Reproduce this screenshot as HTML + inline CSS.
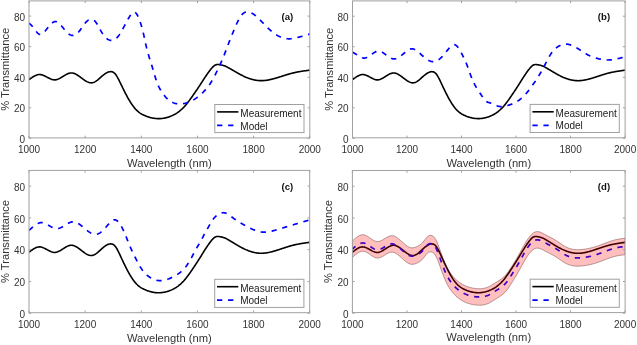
<!DOCTYPE html>
<html><head><meta charset="utf-8"><style>
html,body{margin:0;padding:0;background:#fff;width:637px;height:345px;overflow:hidden}
svg{display:block;filter:blur(0.35px)}
</style></head><body>
<svg width="637" height="345" viewBox="0 0 637 345">
<rect width="637" height="345" fill="#fff"/>
<clipPath id="clipa"><rect x="29" y="0.9" width="280.80" height="137.00"/></clipPath>
<g clip-path="url(#clipa)">
<path d="M29.00,79.66 L29.56,79.25 L30.12,78.84 L30.68,78.43 L31.25,78.04 L31.81,77.65 L32.37,77.27 L32.93,76.91 L33.49,76.56 L34.05,76.24 L34.62,75.93 L35.18,75.65 L35.74,75.39 L36.30,75.16 L36.86,74.96 L37.42,74.80 L37.99,74.67 L38.55,74.57 L39.11,74.52 L39.67,74.51 L40.23,74.54 L40.79,74.61 L41.36,74.72 L41.92,74.87 L42.48,75.04 L43.04,75.24 L43.60,75.47 L44.16,75.71 L44.72,75.98 L45.29,76.25 L45.85,76.54 L46.41,76.84 L46.97,77.14 L47.53,77.43 L48.09,77.73 L48.66,78.02 L49.22,78.30 L49.78,78.57 L50.34,78.83 L50.90,79.06 L51.46,79.27 L52.03,79.46 L52.59,79.61 L53.15,79.74 L53.71,79.82 L54.27,79.87 L54.83,79.88 L55.40,79.84 L55.96,79.76 L56.52,79.64 L57.08,79.48 L57.64,79.29 L58.20,79.07 L58.76,78.83 L59.33,78.56 L59.89,78.27 L60.45,77.96 L61.01,77.63 L61.57,77.30 L62.13,76.96 L62.70,76.61 L63.26,76.26 L63.82,75.92 L64.38,75.57 L64.94,75.24 L65.50,74.91 L66.07,74.60 L66.63,74.31 L67.19,74.03 L67.75,73.78 L68.31,73.56 L68.87,73.36 L69.44,73.20 L70.00,73.07 L70.56,72.99 L71.12,72.94 L71.68,72.94 L72.24,72.98 L72.80,73.07 L73.37,73.20 L73.93,73.37 L74.49,73.57 L75.05,73.81 L75.61,74.07 L76.17,74.37 L76.74,74.68 L77.30,75.03 L77.86,75.39 L78.42,75.76 L78.98,76.15 L79.54,76.55 L80.11,76.97 L80.67,77.38 L81.23,77.80 L81.79,78.22 L82.35,78.64 L82.91,79.05 L83.48,79.46 L84.04,79.85 L84.60,80.24 L85.16,80.60 L85.72,80.95 L86.28,81.28 L86.84,81.58 L87.41,81.86 L87.97,82.11 L88.53,82.32 L89.09,82.50 L89.65,82.65 L90.21,82.75 L90.78,82.81 L91.34,82.83 L91.90,82.80 L92.46,82.71 L93.02,82.58 L93.58,82.39 L94.15,82.16 L94.71,81.89 L95.27,81.58 L95.83,81.24 L96.39,80.86 L96.95,80.46 L97.52,80.03 L98.08,79.58 L98.64,79.12 L99.20,78.64 L99.76,78.15 L100.32,77.66 L100.88,77.17 L101.45,76.68 L102.01,76.19 L102.57,75.72 L103.13,75.25 L103.69,74.80 L104.25,74.37 L104.82,73.97 L105.38,73.58 L105.94,73.23 L106.50,72.90 L107.06,72.60 L107.62,72.34 L108.19,72.11 L108.75,71.93 L109.31,71.79 L109.87,71.69 L110.43,71.64 L110.99,71.64 L111.56,71.70 L112.12,71.82 L112.68,72.01 L113.24,72.28 L113.80,72.63 L114.36,73.08 L114.92,73.62 L115.49,74.27 L116.05,75.02 L116.61,75.87 L117.17,76.80 L117.73,77.79 L118.29,78.85 L118.86,79.94 L119.42,81.08 L119.98,82.23 L120.54,83.39 L121.10,84.56 L121.66,85.72 L122.23,86.87 L122.79,88.02 L123.35,89.16 L123.91,90.29 L124.47,91.41 L125.03,92.52 L125.60,93.61 L126.16,94.68 L126.72,95.74 L127.28,96.77 L127.84,97.79 L128.40,98.78 L128.96,99.76 L129.53,100.70 L130.09,101.63 L130.65,102.52 L131.21,103.39 L131.77,104.22 L132.33,105.03 L132.90,105.81 L133.46,106.56 L134.02,107.28 L134.58,107.97 L135.14,108.63 L135.70,109.25 L136.27,109.85 L136.83,110.42 L137.39,110.95 L137.95,111.46 L138.51,111.93 L139.07,112.37 L139.64,112.79 L140.20,113.18 L140.76,113.54 L141.32,113.88 L141.88,114.21 L142.44,114.51 L143.00,114.79 L143.57,115.06 L144.13,115.32 L144.69,115.57 L145.25,115.80 L145.81,116.03 L146.37,116.25 L146.94,116.46 L147.50,116.66 L148.06,116.85 L148.62,117.03 L149.18,117.20 L149.74,117.36 L150.31,117.52 L150.87,117.66 L151.43,117.79 L151.99,117.92 L152.55,118.03 L153.11,118.13 L153.68,118.23 L154.24,118.31 L154.80,118.39 L155.36,118.45 L155.92,118.51 L156.48,118.55 L157.04,118.58 L157.61,118.61 L158.17,118.62 L158.73,118.63 L159.29,118.62 L159.85,118.60 L160.41,118.58 L160.98,118.54 L161.54,118.49 L162.10,118.43 L162.66,118.37 L163.22,118.29 L163.78,118.20 L164.35,118.10 L164.91,117.99 L165.47,117.87 L166.03,117.74 L166.59,117.60 L167.15,117.45 L167.72,117.29 L168.28,117.12 L168.84,116.94 L169.40,116.74 L169.96,116.54 L170.52,116.33 L171.08,116.10 L171.65,115.87 L172.21,115.62 L172.77,115.36 L173.33,115.09 L173.89,114.81 L174.45,114.51 L175.02,114.20 L175.58,113.88 L176.14,113.54 L176.70,113.18 L177.26,112.81 L177.82,112.42 L178.39,112.02 L178.95,111.60 L179.51,111.16 L180.07,110.71 L180.63,110.23 L181.19,109.74 L181.76,109.23 L182.32,108.70 L182.88,108.16 L183.44,107.59 L184.00,107.00 L184.56,106.40 L185.12,105.77 L185.69,105.13 L186.25,104.46 L186.81,103.78 L187.37,103.07 L187.93,102.35 L188.49,101.62 L189.06,100.87 L189.62,100.11 L190.18,99.33 L190.74,98.55 L191.30,97.76 L191.86,96.97 L192.43,96.17 L192.99,95.36 L193.55,94.56 L194.11,93.75 L194.67,92.95 L195.23,92.14 L195.80,91.32 L196.36,90.51 L196.92,89.68 L197.48,88.85 L198.04,88.02 L198.60,87.18 L199.16,86.33 L199.73,85.47 L200.29,84.60 L200.85,83.73 L201.41,82.86 L201.97,81.99 L202.53,81.11 L203.10,80.24 L203.66,79.38 L204.22,78.52 L204.78,77.67 L205.34,76.83 L205.90,76.00 L206.47,75.18 L207.03,74.37 L207.59,73.57 L208.15,72.79 L208.71,72.03 L209.27,71.27 L209.84,70.54 L210.40,69.81 L210.96,69.11 L211.52,68.43 L212.08,67.78 L212.64,67.16 L213.20,66.60 L213.77,66.09 L214.33,65.64 L214.89,65.27 L215.45,64.98 L216.01,64.76 L216.57,64.62 L217.14,64.53 L217.70,64.50 L218.26,64.51 L218.82,64.56 L219.38,64.63 L219.94,64.72 L220.51,64.81 L221.07,64.92 L221.63,65.03 L222.19,65.16 L222.75,65.31 L223.31,65.47 L223.88,65.64 L224.44,65.84 L225.00,66.05 L225.56,66.29 L226.12,66.54 L226.68,66.81 L227.24,67.10 L227.81,67.40 L228.37,67.71 L228.93,68.02 L229.49,68.34 L230.05,68.66 L230.61,68.98 L231.18,69.30 L231.74,69.63 L232.30,69.95 L232.86,70.28 L233.42,70.61 L233.98,70.93 L234.55,71.26 L235.11,71.59 L235.67,71.91 L236.23,72.24 L236.79,72.56 L237.35,72.88 L237.92,73.19 L238.48,73.51 L239.04,73.82 L239.60,74.13 L240.16,74.43 L240.72,74.73 L241.28,75.02 L241.85,75.31 L242.41,75.59 L242.97,75.87 L243.53,76.14 L244.09,76.40 L244.65,76.66 L245.22,76.91 L245.78,77.15 L246.34,77.39 L246.90,77.62 L247.46,77.84 L248.02,78.06 L248.59,78.26 L249.15,78.46 L249.71,78.65 L250.27,78.83 L250.83,79.01 L251.39,79.18 L251.96,79.34 L252.52,79.49 L253.08,79.63 L253.64,79.76 L254.20,79.89 L254.76,80.00 L255.32,80.11 L255.89,80.21 L256.45,80.29 L257.01,80.37 L257.57,80.44 L258.13,80.50 L258.69,80.56 L259.26,80.60 L259.82,80.63 L260.38,80.65 L260.94,80.66 L261.50,80.66 L262.06,80.66 L262.63,80.64 L263.19,80.61 L263.75,80.57 L264.31,80.53 L264.87,80.47 L265.43,80.41 L266.00,80.34 L266.56,80.26 L267.12,80.18 L267.68,80.09 L268.24,79.99 L268.80,79.88 L269.36,79.77 L269.93,79.65 L270.49,79.53 L271.05,79.40 L271.61,79.27 L272.17,79.13 L272.73,78.99 L273.30,78.84 L273.86,78.69 L274.42,78.53 L274.98,78.37 L275.54,78.21 L276.10,78.05 L276.67,77.88 L277.23,77.71 L277.79,77.54 L278.35,77.37 L278.91,77.19 L279.47,77.02 L280.04,76.84 L280.60,76.66 L281.16,76.48 L281.72,76.31 L282.28,76.13 L282.84,75.95 L283.40,75.77 L283.97,75.59 L284.53,75.41 L285.09,75.24 L285.65,75.06 L286.21,74.89 L286.77,74.72 L287.34,74.54 L287.90,74.38 L288.46,74.21 L289.02,74.05 L289.58,73.89 L290.14,73.73 L290.71,73.57 L291.27,73.42 L291.83,73.27 L292.39,73.13 L292.95,72.99 L293.51,72.85 L294.08,72.72 L294.64,72.60 L295.20,72.47 L295.76,72.35 L296.32,72.24 L296.88,72.12 L297.44,72.01 L298.01,71.91 L298.57,71.80 L299.13,71.70 L299.69,71.61 L300.25,71.51 L300.81,71.42 L301.38,71.33 L301.94,71.24 L302.50,71.15 L303.06,71.07 L303.62,70.98 L304.18,70.90 L304.75,70.82 L305.31,70.75 L305.87,70.67 L306.43,70.59 L306.99,70.52 L307.55,70.44 L308.12,70.37 L308.68,70.29 L309.24,70.22 L309.80,70.15" fill="none" stroke="#000" stroke-width="1.6"/>
<path d="M29.00,23.00 L29.56,23.53 L30.12,24.06 L30.68,24.61 L31.25,25.18 L31.81,25.77 L32.37,26.40 L32.93,27.07 L33.49,27.78 L34.05,28.53 L34.62,29.30 L35.18,30.08 L35.74,30.85 L36.30,31.59 L36.86,32.28 L37.42,32.90 L37.99,33.44 L38.55,33.88 L39.11,34.20 L39.67,34.40 L40.23,34.46 L40.79,34.41 L41.36,34.25 L41.92,34.00 L42.48,33.65 L43.04,33.23 L43.60,32.73 L44.16,32.18 L44.72,31.57 L45.29,30.92 L45.85,30.24 L46.41,29.53 L46.97,28.81 L47.53,28.09 L48.09,27.37 L48.66,26.65 L49.22,25.96 L49.78,25.30 L50.34,24.66 L50.90,24.06 L51.46,23.51 L52.03,23.01 L52.59,22.57 L53.15,22.20 L53.71,21.90 L54.27,21.68 L54.83,21.54 L55.40,21.50 L55.96,21.56 L56.52,21.71 L57.08,21.94 L57.64,22.25 L58.20,22.64 L58.76,23.08 L59.33,23.59 L59.89,24.14 L60.45,24.73 L61.01,25.36 L61.57,26.02 L62.13,26.69 L62.70,27.38 L63.26,28.07 L63.82,28.76 L64.38,29.44 L64.94,30.11 L65.50,30.76 L66.07,31.40 L66.63,32.00 L67.19,32.57 L67.75,33.10 L68.31,33.59 L68.87,34.04 L69.44,34.43 L70.00,34.76 L70.56,35.03 L71.12,35.24 L71.68,35.37 L72.24,35.44 L72.80,35.43 L73.37,35.37 L73.93,35.24 L74.49,35.04 L75.05,34.79 L75.61,34.48 L76.17,34.11 L76.74,33.69 L77.30,33.22 L77.86,32.69 L78.42,32.12 L78.98,31.50 L79.54,30.83 L80.11,30.12 L80.67,29.37 L81.23,28.59 L81.79,27.79 L82.35,26.97 L82.91,26.15 L83.48,25.35 L84.04,24.56 L84.60,23.80 L85.16,23.09 L85.72,22.43 L86.28,21.82 L86.84,21.28 L87.41,20.79 L87.97,20.37 L88.53,20.02 L89.09,19.73 L89.65,19.51 L90.21,19.36 L90.78,19.28 L91.34,19.28 L91.90,19.36 L92.46,19.51 L93.02,19.75 L93.58,20.06 L94.15,20.46 L94.71,20.95 L95.27,21.52 L95.83,22.18 L96.39,22.93 L96.95,23.77 L97.52,24.68 L98.08,25.65 L98.64,26.66 L99.20,27.70 L99.76,28.75 L100.32,29.79 L100.88,30.82 L101.45,31.81 L102.01,32.75 L102.57,33.63 L103.13,34.47 L103.69,35.25 L104.25,35.97 L104.82,36.64 L105.38,37.26 L105.94,37.83 L106.50,38.34 L107.06,38.79 L107.62,39.19 L108.19,39.54 L108.75,39.83 L109.31,40.07 L109.87,40.25 L110.43,40.37 L110.99,40.44 L111.56,40.46 L112.12,40.42 L112.68,40.32 L113.24,40.16 L113.80,39.95 L114.36,39.68 L114.92,39.35 L115.49,38.97 L116.05,38.53 L116.61,38.02 L117.17,37.46 L117.73,36.84 L118.29,36.16 L118.86,35.42 L119.42,34.63 L119.98,33.78 L120.54,32.89 L121.10,31.96 L121.66,30.99 L122.23,29.99 L122.79,28.97 L123.35,27.93 L123.91,26.87 L124.47,25.80 L125.03,24.74 L125.60,23.67 L126.16,22.61 L126.72,21.56 L127.28,20.53 L127.84,19.51 L128.40,18.53 L128.96,17.57 L129.53,16.65 L130.09,15.77 L130.65,14.94 L131.21,14.16 L131.77,13.48 L132.33,12.89 L132.90,12.43 L133.46,12.12 L134.02,11.98 L134.58,12.03 L135.14,12.28 L135.70,12.74 L136.27,13.40 L136.83,14.23 L137.39,15.23 L137.95,16.37 L138.51,17.63 L139.07,19.02 L139.64,20.49 L140.20,22.07 L140.76,23.75 L141.32,25.56 L141.88,27.49 L142.44,29.56 L143.00,31.79 L143.57,34.17 L144.13,36.69 L144.69,39.28 L145.25,41.88 L145.81,44.45 L146.37,46.93 L146.94,49.26 L147.50,51.42 L148.06,53.44 L148.62,55.36 L149.18,57.18 L149.74,58.96 L150.31,60.71 L150.87,62.46 L151.43,64.25 L151.99,66.09 L152.55,67.98 L153.11,69.91 L153.68,71.85 L154.24,73.78 L154.80,75.67 L155.36,77.51 L155.92,79.28 L156.48,80.94 L157.04,82.49 L157.61,83.93 L158.17,85.28 L158.73,86.53 L159.29,87.69 L159.85,88.78 L160.41,89.79 L160.98,90.75 L161.54,91.64 L162.10,92.49 L162.66,93.30 L163.22,94.08 L163.78,94.83 L164.35,95.54 L164.91,96.23 L165.47,96.89 L166.03,97.51 L166.59,98.10 L167.15,98.67 L167.72,99.20 L168.28,99.70 L168.84,100.17 L169.40,100.60 L169.96,101.01 L170.52,101.39 L171.08,101.73 L171.65,102.05 L172.21,102.33 L172.77,102.59 L173.33,102.82 L173.89,103.02 L174.45,103.20 L175.02,103.36 L175.58,103.50 L176.14,103.61 L176.70,103.71 L177.26,103.78 L177.82,103.84 L178.39,103.88 L178.95,103.91 L179.51,103.92 L180.07,103.92 L180.63,103.91 L181.19,103.88 L181.76,103.84 L182.32,103.78 L182.88,103.71 L183.44,103.63 L184.00,103.53 L184.56,103.42 L185.12,103.29 L185.69,103.16 L186.25,103.00 L186.81,102.84 L187.37,102.66 L187.93,102.47 L188.49,102.26 L189.06,102.04 L189.62,101.81 L190.18,101.56 L190.74,101.30 L191.30,101.03 L191.86,100.74 L192.43,100.45 L192.99,100.13 L193.55,99.81 L194.11,99.47 L194.67,99.12 L195.23,98.75 L195.80,98.38 L196.36,97.99 L196.92,97.58 L197.48,97.16 L198.04,96.73 L198.60,96.29 L199.16,95.83 L199.73,95.36 L200.29,94.87 L200.85,94.37 L201.41,93.86 L201.97,93.33 L202.53,92.79 L203.10,92.24 L203.66,91.66 L204.22,91.08 L204.78,90.48 L205.34,89.86 L205.90,89.23 L206.47,88.58 L207.03,87.90 L207.59,87.21 L208.15,86.48 L208.71,85.74 L209.27,84.96 L209.84,84.16 L210.40,83.32 L210.96,82.46 L211.52,81.56 L212.08,80.62 L212.64,79.65 L213.20,78.64 L213.77,77.59 L214.33,76.52 L214.89,75.42 L215.45,74.30 L216.01,73.16 L216.57,72.00 L217.14,70.83 L217.70,69.66 L218.26,68.48 L218.82,67.29 L219.38,66.10 L219.94,64.90 L220.51,63.69 L221.07,62.45 L221.63,61.18 L222.19,59.89 L222.75,58.56 L223.31,57.19 L223.88,55.78 L224.44,54.34 L225.00,52.88 L225.56,51.40 L226.12,49.91 L226.68,48.42 L227.24,46.94 L227.81,45.46 L228.37,44.00 L228.93,42.55 L229.49,41.11 L230.05,39.69 L230.61,38.28 L231.18,36.88 L231.74,35.48 L232.30,34.10 L232.86,32.73 L233.42,31.36 L233.98,30.00 L234.55,28.66 L235.11,27.33 L235.67,26.03 L236.23,24.75 L236.79,23.52 L237.35,22.32 L237.92,21.16 L238.48,20.06 L239.04,19.01 L239.60,18.03 L240.16,17.10 L240.72,16.25 L241.28,15.48 L241.85,14.78 L242.41,14.17 L242.97,13.63 L243.53,13.17 L244.09,12.78 L244.65,12.46 L245.22,12.21 L245.78,12.01 L246.34,11.88 L246.90,11.80 L247.46,11.78 L248.02,11.80 L248.59,11.87 L249.15,11.99 L249.71,12.15 L250.27,12.35 L250.83,12.58 L251.39,12.85 L251.96,13.16 L252.52,13.49 L253.08,13.85 L253.64,14.24 L254.20,14.65 L254.76,15.08 L255.32,15.53 L255.89,16.00 L256.45,16.49 L257.01,16.99 L257.57,17.51 L258.13,18.04 L258.69,18.58 L259.26,19.13 L259.82,19.69 L260.38,20.26 L260.94,20.84 L261.50,21.42 L262.06,22.01 L262.63,22.60 L263.19,23.19 L263.75,23.78 L264.31,24.37 L264.87,24.95 L265.43,25.53 L266.00,26.11 L266.56,26.69 L267.12,27.25 L267.68,27.81 L268.24,28.36 L268.80,28.90 L269.36,29.43 L269.93,29.94 L270.49,30.45 L271.05,30.93 L271.61,31.41 L272.17,31.87 L272.73,32.31 L273.30,32.75 L273.86,33.16 L274.42,33.57 L274.98,33.95 L275.54,34.33 L276.10,34.69 L276.67,35.03 L277.23,35.36 L277.79,35.68 L278.35,35.98 L278.91,36.26 L279.47,36.54 L280.04,36.79 L280.60,37.03 L281.16,37.26 L281.72,37.47 L282.28,37.66 L282.84,37.84 L283.40,38.01 L283.97,38.16 L284.53,38.29 L285.09,38.41 L285.65,38.51 L286.21,38.60 L286.77,38.67 L287.34,38.73 L287.90,38.77 L288.46,38.79 L289.02,38.80 L289.58,38.80 L290.14,38.78 L290.71,38.74 L291.27,38.70 L291.83,38.64 L292.39,38.57 L292.95,38.49 L293.51,38.39 L294.08,38.29 L294.64,38.18 L295.20,38.07 L295.76,37.94 L296.32,37.81 L296.88,37.68 L297.44,37.54 L298.01,37.39 L298.57,37.24 L299.13,37.09 L299.69,36.94 L300.25,36.79 L300.81,36.63 L301.38,36.47 L301.94,36.31 L302.50,36.15 L303.06,35.99 L303.62,35.83 L304.18,35.67 L304.75,35.50 L305.31,35.34 L305.87,35.17 L306.43,35.01 L306.99,34.84 L307.55,34.67 L308.12,34.50 L308.68,34.34 L309.24,34.17 L309.80,34.00" fill="none" stroke="#0000ff" stroke-width="1.7" stroke-dasharray="5.27 5.77" stroke-dashoffset="0"/>
</g>
<rect x="29" y="0.9" width="280.80" height="137.00" fill="none" stroke="#a0a0a0" stroke-width="1"/>
<line x1="29" y1="138.37" x2="31.2" y2="138.37" stroke="#a0a0a0"/>
<line x1="309.8" y1="138.37" x2="307.6" y2="138.37" stroke="#a0a0a0"/>
<text x="25.10" y="142.97" text-anchor="end" font-family="'Liberation Sans', sans-serif" font-size="10" fill="#333">0</text>
<line x1="29" y1="107.80" x2="31.2" y2="107.80" stroke="#a0a0a0"/>
<line x1="309.8" y1="107.80" x2="307.6" y2="107.80" stroke="#a0a0a0"/>
<text x="25.10" y="112.40" text-anchor="end" font-family="'Liberation Sans', sans-serif" font-size="10" fill="#333">20</text>
<line x1="29" y1="77.24" x2="31.2" y2="77.24" stroke="#a0a0a0"/>
<line x1="309.8" y1="77.24" x2="307.6" y2="77.24" stroke="#a0a0a0"/>
<text x="25.10" y="81.84" text-anchor="end" font-family="'Liberation Sans', sans-serif" font-size="10" fill="#333">40</text>
<line x1="29" y1="46.67" x2="31.2" y2="46.67" stroke="#a0a0a0"/>
<line x1="309.8" y1="46.67" x2="307.6" y2="46.67" stroke="#a0a0a0"/>
<text x="25.10" y="51.27" text-anchor="end" font-family="'Liberation Sans', sans-serif" font-size="10" fill="#333">60</text>
<line x1="29" y1="16.10" x2="31.2" y2="16.10" stroke="#a0a0a0"/>
<line x1="309.8" y1="16.10" x2="307.6" y2="16.10" stroke="#a0a0a0"/>
<text x="25.10" y="20.70" text-anchor="end" font-family="'Liberation Sans', sans-serif" font-size="10" fill="#333">80</text>
<line x1="29.00" y1="137.9" x2="29.00" y2="135.70000000000002" stroke="#a0a0a0"/>
<line x1="29.00" y1="0.9" x2="29.00" y2="3.1" stroke="#a0a0a0"/>
<text x="29.00" y="153.00" text-anchor="middle" font-family="'Liberation Sans', sans-serif" font-size="10" fill="#333">1000</text>
<line x1="85.16" y1="137.9" x2="85.16" y2="135.70000000000002" stroke="#a0a0a0"/>
<line x1="85.16" y1="0.9" x2="85.16" y2="3.1" stroke="#a0a0a0"/>
<text x="85.16" y="153.00" text-anchor="middle" font-family="'Liberation Sans', sans-serif" font-size="10" fill="#333">1200</text>
<line x1="141.32" y1="137.9" x2="141.32" y2="135.70000000000002" stroke="#a0a0a0"/>
<line x1="141.32" y1="0.9" x2="141.32" y2="3.1" stroke="#a0a0a0"/>
<text x="141.32" y="153.00" text-anchor="middle" font-family="'Liberation Sans', sans-serif" font-size="10" fill="#333">1400</text>
<line x1="197.48" y1="137.9" x2="197.48" y2="135.70000000000002" stroke="#a0a0a0"/>
<line x1="197.48" y1="0.9" x2="197.48" y2="3.1" stroke="#a0a0a0"/>
<text x="197.48" y="153.00" text-anchor="middle" font-family="'Liberation Sans', sans-serif" font-size="10" fill="#333">1600</text>
<line x1="253.64" y1="137.9" x2="253.64" y2="135.70000000000002" stroke="#a0a0a0"/>
<line x1="253.64" y1="0.9" x2="253.64" y2="3.1" stroke="#a0a0a0"/>
<text x="253.64" y="153.00" text-anchor="middle" font-family="'Liberation Sans', sans-serif" font-size="10" fill="#333">1800</text>
<line x1="309.80" y1="137.9" x2="309.80" y2="135.70000000000002" stroke="#a0a0a0"/>
<line x1="309.80" y1="0.9" x2="309.80" y2="3.1" stroke="#a0a0a0"/>
<text x="309.80" y="153.00" text-anchor="middle" font-family="'Liberation Sans', sans-serif" font-size="10" fill="#333">2000</text>
<text x="169.40" y="166.70" text-anchor="middle" font-family="'Liberation Sans', sans-serif" font-size="11.2" fill="#333">Wavelength (nm)</text>
<text transform="translate(9.00,69.30) rotate(-90)" text-anchor="middle" font-family="'Liberation Sans', sans-serif" font-size="11.15" fill="#333">% Transmittance</text>
<text x="281.45" y="20.20" font-family="'Liberation Sans', sans-serif" font-size="9.6" font-weight="bold" fill="#111">(a)</text>
<rect x="214.80" y="104.50" width="89.2" height="28.1" fill="#fff" stroke="#a0a0a0" stroke-width="1"/>
<line x1="217.10" y1="111.90" x2="238.40" y2="111.90" stroke="#000" stroke-width="1.6"/>
<line x1="217.10" y1="125.40" x2="238.40" y2="125.40" stroke="#0000ff" stroke-width="1.7" stroke-dasharray="5.27 5.77"/>
<text x="240.30" y="116.80" font-family="'Liberation Sans', sans-serif" font-size="10" fill="#1a1a1a">Measurement</text>
<text x="240.30" y="129.50" font-family="'Liberation Sans', sans-serif" font-size="10" fill="#1a1a1a">Model</text>
<clipPath id="clipb"><rect x="352.5" y="0.9" width="272.60" height="136.90"/></clipPath>
<g clip-path="url(#clipb)">
<path d="M352.50,79.68 L353.05,79.27 L353.59,78.86 L354.14,78.46 L354.68,78.06 L355.23,77.67 L355.77,77.30 L356.32,76.94 L356.86,76.59 L357.41,76.26 L357.95,75.96 L358.50,75.68 L359.04,75.42 L359.59,75.19 L360.13,74.99 L360.68,74.83 L361.22,74.70 L361.77,74.60 L362.31,74.55 L362.86,74.54 L363.40,74.57 L363.95,74.64 L364.49,74.75 L365.04,74.90 L365.58,75.07 L366.13,75.27 L366.68,75.50 L367.22,75.74 L367.77,76.00 L368.31,76.28 L368.86,76.57 L369.40,76.86 L369.95,77.16 L370.49,77.46 L371.04,77.76 L371.58,78.05 L372.13,78.33 L372.67,78.60 L373.22,78.85 L373.76,79.08 L374.31,79.30 L374.85,79.48 L375.40,79.64 L375.94,79.76 L376.49,79.85 L377.03,79.90 L377.58,79.90 L378.12,79.86 L378.67,79.78 L379.21,79.66 L379.76,79.51 L380.31,79.32 L380.85,79.10 L381.40,78.85 L381.94,78.58 L382.49,78.29 L383.03,77.98 L383.58,77.66 L384.12,77.33 L384.67,76.99 L385.21,76.64 L385.76,76.29 L386.30,75.94 L386.85,75.60 L387.39,75.27 L387.94,74.94 L388.48,74.63 L389.03,74.34 L389.57,74.06 L390.12,73.81 L390.66,73.59 L391.21,73.39 L391.75,73.23 L392.30,73.11 L392.84,73.02 L393.39,72.97 L393.94,72.97 L394.48,73.01 L395.03,73.10 L395.57,73.23 L396.12,73.40 L396.66,73.60 L397.21,73.84 L397.75,74.10 L398.30,74.40 L398.84,74.71 L399.39,75.05 L399.93,75.41 L400.48,75.79 L401.02,76.18 L401.57,76.58 L402.11,76.99 L402.66,77.41 L403.20,77.83 L403.75,78.25 L404.29,78.67 L404.84,79.08 L405.38,79.48 L405.93,79.88 L406.47,80.26 L407.02,80.63 L407.57,80.97 L408.11,81.30 L408.66,81.60 L409.20,81.88 L409.75,82.13 L410.29,82.34 L410.84,82.52 L411.38,82.67 L411.93,82.77 L412.47,82.83 L413.02,82.85 L413.56,82.82 L414.11,82.73 L414.65,82.60 L415.20,82.42 L415.74,82.19 L416.29,81.91 L416.83,81.60 L417.38,81.26 L417.92,80.88 L418.47,80.48 L419.01,80.05 L419.56,79.60 L420.10,79.14 L420.65,78.66 L421.20,78.18 L421.74,77.69 L422.29,77.20 L422.83,76.71 L423.38,76.22 L423.92,75.74 L424.47,75.28 L425.01,74.83 L425.56,74.40 L426.10,74.00 L426.65,73.61 L427.19,73.26 L427.74,72.93 L428.28,72.63 L428.83,72.37 L429.37,72.15 L429.92,71.96 L430.46,71.82 L431.01,71.72 L431.55,71.67 L432.10,71.68 L432.64,71.73 L433.19,71.85 L433.73,72.04 L434.28,72.31 L434.83,72.67 L435.37,73.11 L435.92,73.65 L436.46,74.30 L437.01,75.05 L437.55,75.90 L438.10,76.82 L438.64,77.82 L439.19,78.87 L439.73,79.97 L440.28,81.10 L440.82,82.25 L441.37,83.41 L441.91,84.58 L442.46,85.73 L443.00,86.89 L443.55,88.04 L444.09,89.17 L444.64,90.30 L445.18,91.42 L445.73,92.53 L446.27,93.62 L446.82,94.69 L447.36,95.74 L447.91,96.78 L448.46,97.79 L449.00,98.79 L449.55,99.76 L450.09,100.70 L450.64,101.63 L451.18,102.52 L451.73,103.38 L452.27,104.22 L452.82,105.03 L453.36,105.81 L453.91,106.55 L454.45,107.27 L455.00,107.96 L455.54,108.62 L456.09,109.25 L456.63,109.84 L457.18,110.41 L457.72,110.94 L458.27,111.45 L458.81,111.92 L459.36,112.36 L459.90,112.78 L460.45,113.16 L460.99,113.53 L461.54,113.87 L462.09,114.19 L462.63,114.49 L463.18,114.78 L463.72,115.05 L464.27,115.31 L464.81,115.55 L465.36,115.79 L465.90,116.02 L466.45,116.23 L466.99,116.44 L467.54,116.64 L468.08,116.83 L468.63,117.01 L469.17,117.18 L469.72,117.35 L470.26,117.50 L470.81,117.64 L471.35,117.77 L471.90,117.90 L472.44,118.01 L472.99,118.12 L473.53,118.21 L474.08,118.29 L474.62,118.37 L475.17,118.43 L475.72,118.49 L476.26,118.53 L476.81,118.57 L477.35,118.59 L477.90,118.60 L478.44,118.61 L478.99,118.60 L479.53,118.59 L480.08,118.56 L480.62,118.52 L481.17,118.47 L481.71,118.42 L482.26,118.35 L482.80,118.27 L483.35,118.18 L483.89,118.08 L484.44,117.97 L484.98,117.85 L485.53,117.73 L486.07,117.58 L486.62,117.43 L487.16,117.27 L487.71,117.10 L488.25,116.92 L488.80,116.73 L489.35,116.53 L489.89,116.31 L490.44,116.09 L490.98,115.85 L491.53,115.61 L492.07,115.35 L492.62,115.08 L493.16,114.80 L493.71,114.50 L494.25,114.19 L494.80,113.86 L495.34,113.52 L495.89,113.17 L496.43,112.80 L496.98,112.41 L497.52,112.01 L498.07,111.59 L498.61,111.15 L499.16,110.70 L499.70,110.22 L500.25,109.73 L500.79,109.22 L501.34,108.70 L501.88,108.15 L502.43,107.58 L502.98,107.00 L503.52,106.39 L504.07,105.77 L504.61,105.13 L505.16,104.46 L505.70,103.78 L506.25,103.07 L506.79,102.35 L507.34,101.62 L507.88,100.87 L508.43,100.11 L508.97,99.34 L509.52,98.55 L510.06,97.77 L510.61,96.97 L511.15,96.17 L511.70,95.37 L512.24,94.57 L512.79,93.76 L513.33,92.96 L513.88,92.15 L514.42,91.34 L514.97,90.52 L515.51,89.70 L516.06,88.87 L516.61,88.03 L517.15,87.19 L517.70,86.34 L518.24,85.48 L518.79,84.62 L519.33,83.75 L519.88,82.88 L520.42,82.01 L520.97,81.13 L521.51,80.27 L522.06,79.40 L522.60,78.54 L523.15,77.69 L523.69,76.85 L524.24,76.02 L524.78,75.21 L525.33,74.40 L525.87,73.61 L526.42,72.82 L526.96,72.06 L527.51,71.31 L528.05,70.57 L528.60,69.85 L529.14,69.14 L529.69,68.46 L530.24,67.81 L530.78,67.20 L531.33,66.64 L531.87,66.13 L532.42,65.68 L532.96,65.31 L533.51,65.02 L534.05,64.80 L534.60,64.66 L535.14,64.57 L535.69,64.54 L536.23,64.55 L536.78,64.60 L537.32,64.67 L537.87,64.76 L538.41,64.85 L538.96,64.96 L539.50,65.07 L540.05,65.20 L540.59,65.35 L541.14,65.51 L541.68,65.68 L542.23,65.88 L542.77,66.09 L543.32,66.33 L543.87,66.58 L544.41,66.85 L544.96,67.14 L545.50,67.44 L546.05,67.74 L546.59,68.06 L547.14,68.37 L547.68,68.69 L548.23,69.01 L548.77,69.34 L549.32,69.66 L549.86,69.99 L550.41,70.31 L550.95,70.64 L551.50,70.97 L552.04,71.29 L552.59,71.62 L553.13,71.94 L553.68,72.27 L554.22,72.59 L554.77,72.91 L555.31,73.22 L555.86,73.54 L556.40,73.85 L556.95,74.16 L557.50,74.46 L558.04,74.76 L558.59,75.05 L559.13,75.34 L559.68,75.62 L560.22,75.90 L560.77,76.17 L561.31,76.43 L561.86,76.69 L562.40,76.94 L562.95,77.18 L563.49,77.42 L564.04,77.65 L564.58,77.87 L565.13,78.08 L565.67,78.29 L566.22,78.49 L566.76,78.68 L567.31,78.86 L567.85,79.03 L568.40,79.20 L568.94,79.36 L569.49,79.51 L570.03,79.65 L570.58,79.78 L571.13,79.91 L571.67,80.02 L572.22,80.13 L572.76,80.23 L573.31,80.32 L573.85,80.40 L574.40,80.47 L574.94,80.53 L575.49,80.58 L576.03,80.62 L576.58,80.65 L577.12,80.67 L577.67,80.69 L578.21,80.69 L578.76,80.68 L579.30,80.66 L579.85,80.63 L580.39,80.60 L580.94,80.55 L581.48,80.50 L582.03,80.44 L582.57,80.37 L583.12,80.29 L583.66,80.20 L584.21,80.11 L584.76,80.01 L585.30,79.91 L585.85,79.80 L586.39,79.68 L586.94,79.55 L587.48,79.43 L588.03,79.29 L588.57,79.15 L589.12,79.01 L589.66,78.86 L590.21,78.71 L590.75,78.56 L591.30,78.40 L591.84,78.24 L592.39,78.07 L592.93,77.91 L593.48,77.74 L594.02,77.57 L594.57,77.39 L595.11,77.22 L595.66,77.04 L596.20,76.87 L596.75,76.69 L597.29,76.51 L597.84,76.33 L598.39,76.15 L598.93,75.98 L599.48,75.80 L600.02,75.62 L600.57,75.44 L601.11,75.27 L601.66,75.09 L602.20,74.92 L602.75,74.74 L603.29,74.57 L603.84,74.41 L604.38,74.24 L604.93,74.08 L605.47,73.92 L606.02,73.76 L606.56,73.60 L607.11,73.45 L607.65,73.31 L608.20,73.16 L608.74,73.02 L609.29,72.89 L609.83,72.76 L610.38,72.63 L610.92,72.50 L611.47,72.38 L612.02,72.27 L612.56,72.16 L613.11,72.05 L613.65,71.94 L614.20,71.84 L614.74,71.74 L615.29,71.64 L615.83,71.54 L616.38,71.45 L616.92,71.36 L617.47,71.27 L618.01,71.19 L618.56,71.10 L619.10,71.02 L619.65,70.94 L620.19,70.86 L620.74,70.78 L621.28,70.70 L621.83,70.63 L622.37,70.55 L622.92,70.47 L623.46,70.40 L624.01,70.33 L624.55,70.25 L625.10,70.18" fill="none" stroke="#000" stroke-width="1.6"/>
<path d="M352.50,52.20 L353.05,52.50 L353.59,52.80 L354.14,53.10 L354.68,53.41 L355.23,53.73 L355.77,54.05 L356.32,54.39 L356.86,54.73 L357.41,55.08 L357.95,55.44 L358.50,55.79 L359.04,56.13 L359.59,56.47 L360.13,56.79 L360.68,57.08 L361.22,57.35 L361.77,57.58 L362.31,57.78 L362.86,57.93 L363.40,58.04 L363.95,58.09 L364.49,58.09 L365.04,58.03 L365.58,57.92 L366.13,57.75 L366.68,57.55 L367.22,57.30 L367.77,57.02 L368.31,56.70 L368.86,56.36 L369.40,56.00 L369.95,55.62 L370.49,55.23 L371.04,54.83 L371.58,54.43 L372.13,54.03 L372.67,53.63 L373.22,53.25 L373.76,52.87 L374.31,52.52 L374.85,52.19 L375.40,51.90 L375.94,51.63 L376.49,51.41 L377.03,51.23 L377.58,51.09 L378.12,51.02 L378.67,51.00 L379.21,51.04 L379.76,51.15 L380.31,51.31 L380.85,51.52 L381.40,51.77 L381.94,52.06 L382.49,52.38 L383.03,52.73 L383.58,53.10 L384.12,53.49 L384.67,53.89 L385.21,54.30 L385.76,54.71 L386.30,55.13 L386.85,55.54 L387.39,55.94 L387.94,56.34 L388.48,56.72 L389.03,57.08 L389.57,57.42 L390.12,57.73 L390.66,58.02 L391.21,58.28 L391.75,58.49 L392.30,58.67 L392.84,58.80 L393.39,58.89 L393.94,58.92 L394.48,58.91 L395.03,58.85 L395.57,58.74 L396.12,58.59 L396.66,58.40 L397.21,58.17 L397.75,57.91 L398.30,57.62 L398.84,57.30 L399.39,56.95 L399.93,56.58 L400.48,56.19 L401.02,55.77 L401.57,55.35 L402.11,54.90 L402.66,54.45 L403.20,53.99 L403.75,53.52 L404.29,53.06 L404.84,52.60 L405.38,52.14 L405.93,51.70 L406.47,51.28 L407.02,50.87 L407.57,50.49 L408.11,50.14 L408.66,49.82 L409.20,49.53 L409.75,49.29 L410.29,49.09 L410.84,48.94 L411.38,48.84 L411.93,48.80 L412.47,48.82 L413.02,48.90 L413.56,49.03 L414.11,49.21 L414.65,49.44 L415.20,49.71 L415.74,50.02 L416.29,50.37 L416.83,50.75 L417.38,51.16 L417.92,51.60 L418.47,52.05 L419.01,52.52 L419.56,53.01 L420.10,53.50 L420.65,54.01 L421.20,54.51 L421.74,55.01 L422.29,55.51 L422.83,56.01 L423.38,56.49 L423.92,56.97 L424.47,57.44 L425.01,57.89 L425.56,58.32 L426.10,58.74 L426.65,59.14 L427.19,59.51 L427.74,59.86 L428.28,60.19 L428.83,60.48 L429.37,60.75 L429.92,60.99 L430.46,61.19 L431.01,61.35 L431.55,61.48 L432.10,61.57 L432.64,61.61 L433.19,61.63 L433.73,61.60 L434.28,61.53 L434.83,61.43 L435.37,61.29 L435.92,61.12 L436.46,60.90 L437.01,60.65 L437.55,60.37 L438.10,60.04 L438.64,59.69 L439.19,59.29 L439.73,58.86 L440.28,58.40 L440.82,57.90 L441.37,57.37 L441.91,56.81 L442.46,56.22 L443.00,55.61 L443.55,54.98 L444.09,54.33 L444.64,53.67 L445.18,53.00 L445.73,52.33 L446.27,51.64 L446.82,50.96 L447.36,50.28 L447.91,49.61 L448.46,48.95 L449.00,48.30 L449.55,47.68 L450.09,47.09 L450.64,46.55 L451.18,46.06 L451.73,45.63 L452.27,45.26 L452.82,44.98 L453.36,44.78 L453.91,44.68 L454.45,44.68 L455.00,44.80 L455.54,45.03 L456.09,45.38 L456.63,45.83 L457.18,46.38 L457.72,47.02 L458.27,47.74 L458.81,48.54 L459.36,49.39 L459.90,50.31 L460.45,51.27 L460.99,52.28 L461.54,53.32 L462.09,54.38 L462.63,55.46 L463.18,56.55 L463.72,57.67 L464.27,58.81 L464.81,59.98 L465.36,61.19 L465.90,62.45 L466.45,63.76 L466.99,65.13 L467.54,66.57 L468.08,68.06 L468.63,69.60 L469.17,71.16 L469.72,72.71 L470.26,74.24 L470.81,75.72 L471.35,77.14 L471.90,78.50 L472.44,79.79 L472.99,81.02 L473.53,82.20 L474.08,83.32 L474.62,84.39 L475.17,85.41 L475.72,86.39 L476.26,87.33 L476.81,88.23 L477.35,89.10 L477.90,89.95 L478.44,90.79 L478.99,91.60 L479.53,92.41 L480.08,93.22 L480.62,94.03 L481.17,94.85 L481.71,95.68 L482.26,96.51 L482.80,97.33 L483.35,98.12 L483.89,98.88 L484.44,99.58 L484.98,100.21 L485.53,100.77 L486.07,101.24 L486.62,101.61 L487.16,101.90 L487.71,102.14 L488.25,102.34 L488.80,102.51 L489.35,102.68 L489.89,102.87 L490.44,103.07 L490.98,103.28 L491.53,103.50 L492.07,103.73 L492.62,103.97 L493.16,104.21 L493.71,104.45 L494.25,104.69 L494.80,104.93 L495.34,105.15 L495.89,105.37 L496.43,105.58 L496.98,105.78 L497.52,105.96 L498.07,106.12 L498.61,106.26 L499.16,106.37 L499.70,106.47 L500.25,106.53 L500.79,106.57 L501.34,106.59 L501.88,106.59 L502.43,106.56 L502.98,106.52 L503.52,106.46 L504.07,106.38 L504.61,106.29 L505.16,106.18 L505.70,106.06 L506.25,105.92 L506.79,105.78 L507.34,105.62 L507.88,105.46 L508.43,105.29 L508.97,105.11 L509.52,104.93 L510.06,104.74 L510.61,104.54 L511.15,104.34 L511.70,104.13 L512.24,103.91 L512.79,103.68 L513.33,103.45 L513.88,103.20 L514.42,102.94 L514.97,102.66 L515.51,102.38 L516.06,102.08 L516.61,101.77 L517.15,101.44 L517.70,101.09 L518.24,100.73 L518.79,100.35 L519.33,99.96 L519.88,99.54 L520.42,99.11 L520.97,98.66 L521.51,98.19 L522.06,97.70 L522.60,97.20 L523.15,96.68 L523.69,96.14 L524.24,95.59 L524.78,95.01 L525.33,94.43 L525.87,93.82 L526.42,93.20 L526.96,92.56 L527.51,91.91 L528.05,91.24 L528.60,90.56 L529.14,89.86 L529.69,89.14 L530.24,88.41 L530.78,87.67 L531.33,86.92 L531.87,86.15 L532.42,85.38 L532.96,84.59 L533.51,83.80 L534.05,83.01 L534.60,82.20 L535.14,81.40 L535.69,80.58 L536.23,79.76 L536.78,78.94 L537.32,78.10 L537.87,77.25 L538.41,76.39 L538.96,75.52 L539.50,74.64 L540.05,73.74 L540.59,72.82 L541.14,71.89 L541.68,70.94 L542.23,69.97 L542.77,68.97 L543.32,67.96 L543.87,66.93 L544.41,65.88 L544.96,64.81 L545.50,63.74 L546.05,62.67 L546.59,61.61 L547.14,60.55 L547.68,59.50 L548.23,58.48 L548.77,57.48 L549.32,56.50 L549.86,55.57 L550.41,54.67 L550.95,53.82 L551.50,53.02 L552.04,52.26 L552.59,51.56 L553.13,50.89 L553.68,50.27 L554.22,49.69 L554.77,49.14 L555.31,48.64 L555.86,48.16 L556.40,47.72 L556.95,47.32 L557.50,46.93 L558.04,46.58 L558.59,46.25 L559.13,45.94 L559.68,45.66 L560.22,45.40 L560.77,45.16 L561.31,44.95 L561.86,44.76 L562.40,44.59 L562.95,44.45 L563.49,44.33 L564.04,44.24 L564.58,44.17 L565.13,44.12 L565.67,44.10 L566.22,44.10 L566.76,44.13 L567.31,44.18 L567.85,44.25 L568.40,44.34 L568.94,44.46 L569.49,44.59 L570.03,44.75 L570.58,44.92 L571.13,45.11 L571.67,45.32 L572.22,45.54 L572.76,45.78 L573.31,46.03 L573.85,46.29 L574.40,46.57 L574.94,46.86 L575.49,47.16 L576.03,47.48 L576.58,47.80 L577.12,48.13 L577.67,48.46 L578.21,48.81 L578.76,49.15 L579.30,49.51 L579.85,49.86 L580.39,50.22 L580.94,50.58 L581.48,50.94 L582.03,51.30 L582.57,51.66 L583.12,52.01 L583.66,52.37 L584.21,52.71 L584.76,53.05 L585.30,53.39 L585.85,53.72 L586.39,54.04 L586.94,54.35 L587.48,54.64 L588.03,54.93 L588.57,55.21 L589.12,55.47 L589.66,55.73 L590.21,55.97 L590.75,56.21 L591.30,56.44 L591.84,56.66 L592.39,56.86 L592.93,57.07 L593.48,57.26 L594.02,57.44 L594.57,57.62 L595.11,57.79 L595.66,57.96 L596.20,58.12 L596.75,58.27 L597.29,58.42 L597.84,58.56 L598.39,58.70 L598.93,58.83 L599.48,58.96 L600.02,59.08 L600.57,59.19 L601.11,59.30 L601.66,59.41 L602.20,59.50 L602.75,59.59 L603.29,59.67 L603.84,59.74 L604.38,59.80 L604.93,59.86 L605.47,59.91 L606.02,59.94 L606.56,59.97 L607.11,59.99 L607.65,60.00 L608.20,60.00 L608.74,59.99 L609.29,59.97 L609.83,59.94 L610.38,59.90 L610.92,59.85 L611.47,59.80 L612.02,59.74 L612.56,59.67 L613.11,59.59 L613.65,59.51 L614.20,59.42 L614.74,59.32 L615.29,59.22 L615.83,59.12 L616.38,59.00 L616.92,58.89 L617.47,58.77 L618.01,58.64 L618.56,58.52 L619.10,58.39 L619.65,58.25 L620.19,58.11 L620.74,57.98 L621.28,57.83 L621.83,57.69 L622.37,57.54 L622.92,57.40 L623.46,57.25 L624.01,57.10 L624.55,56.95 L625.10,56.80" fill="none" stroke="#0000ff" stroke-width="1.7" stroke-dasharray="5.27 5.77" stroke-dashoffset="0"/>
</g>
<rect x="352.5" y="0.9" width="272.60" height="136.90" fill="none" stroke="#a0a0a0" stroke-width="1"/>
<line x1="352.5" y1="138.33" x2="354.7" y2="138.33" stroke="#a0a0a0"/>
<line x1="625.1" y1="138.33" x2="622.9" y2="138.33" stroke="#a0a0a0"/>
<text x="348.60" y="142.93" text-anchor="end" font-family="'Liberation Sans', sans-serif" font-size="10" fill="#333">0</text>
<line x1="352.5" y1="107.80" x2="354.7" y2="107.80" stroke="#a0a0a0"/>
<line x1="625.1" y1="107.80" x2="622.9" y2="107.80" stroke="#a0a0a0"/>
<text x="348.60" y="112.40" text-anchor="end" font-family="'Liberation Sans', sans-serif" font-size="10" fill="#333">20</text>
<line x1="352.5" y1="77.26" x2="354.7" y2="77.26" stroke="#a0a0a0"/>
<line x1="625.1" y1="77.26" x2="622.9" y2="77.26" stroke="#a0a0a0"/>
<text x="348.60" y="81.86" text-anchor="end" font-family="'Liberation Sans', sans-serif" font-size="10" fill="#333">40</text>
<line x1="352.5" y1="46.73" x2="354.7" y2="46.73" stroke="#a0a0a0"/>
<line x1="625.1" y1="46.73" x2="622.9" y2="46.73" stroke="#a0a0a0"/>
<text x="348.60" y="51.33" text-anchor="end" font-family="'Liberation Sans', sans-serif" font-size="10" fill="#333">60</text>
<line x1="352.5" y1="16.20" x2="354.7" y2="16.20" stroke="#a0a0a0"/>
<line x1="625.1" y1="16.20" x2="622.9" y2="16.20" stroke="#a0a0a0"/>
<text x="348.60" y="20.80" text-anchor="end" font-family="'Liberation Sans', sans-serif" font-size="10" fill="#333">80</text>
<line x1="352.50" y1="137.8" x2="352.50" y2="135.60000000000002" stroke="#a0a0a0"/>
<line x1="352.50" y1="0.9" x2="352.50" y2="3.1" stroke="#a0a0a0"/>
<text x="352.50" y="152.90" text-anchor="middle" font-family="'Liberation Sans', sans-serif" font-size="10" fill="#333">1000</text>
<line x1="407.02" y1="137.8" x2="407.02" y2="135.60000000000002" stroke="#a0a0a0"/>
<line x1="407.02" y1="0.9" x2="407.02" y2="3.1" stroke="#a0a0a0"/>
<text x="407.02" y="152.90" text-anchor="middle" font-family="'Liberation Sans', sans-serif" font-size="10" fill="#333">1200</text>
<line x1="461.54" y1="137.8" x2="461.54" y2="135.60000000000002" stroke="#a0a0a0"/>
<line x1="461.54" y1="0.9" x2="461.54" y2="3.1" stroke="#a0a0a0"/>
<text x="461.54" y="152.90" text-anchor="middle" font-family="'Liberation Sans', sans-serif" font-size="10" fill="#333">1400</text>
<line x1="516.06" y1="137.8" x2="516.06" y2="135.60000000000002" stroke="#a0a0a0"/>
<line x1="516.06" y1="0.9" x2="516.06" y2="3.1" stroke="#a0a0a0"/>
<text x="516.06" y="152.90" text-anchor="middle" font-family="'Liberation Sans', sans-serif" font-size="10" fill="#333">1600</text>
<line x1="570.58" y1="137.8" x2="570.58" y2="135.60000000000002" stroke="#a0a0a0"/>
<line x1="570.58" y1="0.9" x2="570.58" y2="3.1" stroke="#a0a0a0"/>
<text x="570.58" y="152.90" text-anchor="middle" font-family="'Liberation Sans', sans-serif" font-size="10" fill="#333">1800</text>
<line x1="625.10" y1="137.8" x2="625.10" y2="135.60000000000002" stroke="#a0a0a0"/>
<line x1="625.10" y1="0.9" x2="625.10" y2="3.1" stroke="#a0a0a0"/>
<text x="625.10" y="152.90" text-anchor="middle" font-family="'Liberation Sans', sans-serif" font-size="10" fill="#333">2000</text>
<text x="488.80" y="166.60" text-anchor="middle" font-family="'Liberation Sans', sans-serif" font-size="11.2" fill="#333">Wavelength (nm)</text>
<text transform="translate(332.50,69.25) rotate(-90)" text-anchor="middle" font-family="'Liberation Sans', sans-serif" font-size="11.15" fill="#333">% Transmittance</text>
<text x="597.85" y="20.20" font-family="'Liberation Sans', sans-serif" font-size="9.6" font-weight="bold" fill="#111">(b)</text>
<rect x="530.10" y="104.40" width="89.2" height="28.1" fill="#fff" stroke="#a0a0a0" stroke-width="1"/>
<line x1="532.40" y1="111.80" x2="553.70" y2="111.80" stroke="#000" stroke-width="1.6"/>
<line x1="532.40" y1="125.30" x2="553.70" y2="125.30" stroke="#0000ff" stroke-width="1.7" stroke-dasharray="5.27 5.77"/>
<text x="555.60" y="116.70" font-family="'Liberation Sans', sans-serif" font-size="10" fill="#1a1a1a">Measurement</text>
<text x="555.60" y="129.40" font-family="'Liberation Sans', sans-serif" font-size="10" fill="#1a1a1a">Model</text>
<clipPath id="clipc"><rect x="29" y="170.4" width="280.70" height="142.30"/></clipPath>
<g clip-path="url(#clipc)">
<path d="M29.00,252.22 L29.56,251.79 L30.12,251.37 L30.68,250.95 L31.25,250.53 L31.81,250.13 L32.37,249.74 L32.93,249.36 L33.49,249.00 L34.05,248.66 L34.61,248.34 L35.18,248.05 L35.74,247.78 L36.30,247.54 L36.86,247.33 L37.42,247.16 L37.98,247.03 L38.54,246.93 L39.11,246.87 L39.67,246.86 L40.23,246.90 L40.79,246.97 L41.35,247.09 L41.91,247.23 L42.47,247.42 L43.03,247.63 L43.60,247.86 L44.16,248.12 L44.72,248.39 L45.28,248.68 L45.84,248.98 L46.40,249.28 L46.96,249.59 L47.53,249.91 L48.09,250.21 L48.65,250.52 L49.21,250.81 L49.77,251.09 L50.33,251.35 L50.89,251.60 L51.46,251.82 L52.02,252.01 L52.58,252.17 L53.14,252.30 L53.70,252.39 L54.26,252.44 L54.82,252.45 L55.39,252.41 L55.95,252.32 L56.51,252.20 L57.07,252.04 L57.63,251.84 L58.19,251.61 L58.75,251.35 L59.32,251.07 L59.88,250.77 L60.44,250.45 L61.00,250.11 L61.56,249.77 L62.12,249.41 L62.68,249.05 L63.25,248.69 L63.81,248.33 L64.37,247.97 L64.93,247.62 L65.49,247.28 L66.05,246.96 L66.61,246.65 L67.18,246.37 L67.74,246.11 L68.30,245.87 L68.86,245.67 L69.42,245.50 L69.98,245.37 L70.54,245.28 L71.10,245.23 L71.67,245.23 L72.23,245.27 L72.79,245.37 L73.35,245.50 L73.91,245.67 L74.47,245.89 L75.03,246.13 L75.60,246.41 L76.16,246.71 L76.72,247.05 L77.28,247.40 L77.84,247.77 L78.40,248.17 L78.96,248.57 L79.53,248.99 L80.09,249.42 L80.65,249.85 L81.21,250.29 L81.77,250.73 L82.33,251.16 L82.89,251.59 L83.46,252.01 L84.02,252.42 L84.58,252.82 L85.14,253.20 L85.70,253.56 L86.26,253.90 L86.82,254.22 L87.39,254.51 L87.95,254.77 L88.51,254.99 L89.07,255.18 L89.63,255.33 L90.19,255.44 L90.75,255.50 L91.32,255.52 L91.88,255.48 L92.44,255.40 L93.00,255.26 L93.56,255.07 L94.12,254.83 L94.68,254.54 L95.25,254.22 L95.81,253.86 L96.37,253.47 L96.93,253.05 L97.49,252.60 L98.05,252.14 L98.61,251.66 L99.17,251.16 L99.74,250.65 L100.30,250.14 L100.86,249.63 L101.42,249.12 L101.98,248.61 L102.54,248.12 L103.10,247.63 L103.67,247.17 L104.23,246.72 L104.79,246.30 L105.35,245.90 L105.91,245.53 L106.47,245.19 L107.03,244.88 L107.60,244.60 L108.16,244.37 L108.72,244.18 L109.28,244.03 L109.84,243.93 L110.40,243.88 L110.96,243.88 L111.53,243.94 L112.09,244.07 L112.65,244.26 L113.21,244.54 L113.77,244.91 L114.33,245.37 L114.89,245.94 L115.46,246.61 L116.02,247.40 L116.58,248.28 L117.14,249.24 L117.70,250.28 L118.26,251.37 L118.82,252.52 L119.39,253.69 L119.95,254.89 L120.51,256.10 L121.07,257.32 L121.63,258.52 L122.19,259.72 L122.75,260.92 L123.32,262.11 L123.88,263.28 L124.44,264.45 L125.00,265.60 L125.56,266.73 L126.12,267.85 L126.68,268.95 L127.24,270.03 L127.81,271.08 L128.37,272.12 L128.93,273.13 L129.49,274.11 L130.05,275.07 L130.61,276.00 L131.17,276.90 L131.74,277.78 L132.30,278.62 L132.86,279.43 L133.42,280.21 L133.98,280.95 L134.54,281.67 L135.10,282.36 L135.67,283.01 L136.23,283.63 L136.79,284.22 L137.35,284.78 L137.91,285.30 L138.47,285.79 L139.03,286.25 L139.60,286.69 L140.16,287.09 L140.72,287.47 L141.28,287.83 L141.84,288.16 L142.40,288.48 L142.96,288.77 L143.53,289.05 L144.09,289.32 L144.65,289.58 L145.21,289.82 L145.77,290.06 L146.33,290.29 L146.89,290.50 L147.46,290.71 L148.02,290.91 L148.58,291.10 L149.14,291.28 L149.70,291.45 L150.26,291.60 L150.82,291.75 L151.39,291.89 L151.95,292.02 L152.51,292.14 L153.07,292.25 L153.63,292.35 L154.19,292.43 L154.75,292.51 L155.31,292.58 L155.88,292.63 L156.44,292.68 L157.00,292.72 L157.56,292.74 L158.12,292.76 L158.68,292.76 L159.24,292.75 L159.81,292.74 L160.37,292.71 L160.93,292.67 L161.49,292.62 L162.05,292.56 L162.61,292.49 L163.17,292.41 L163.74,292.32 L164.30,292.21 L164.86,292.10 L165.42,291.98 L165.98,291.84 L166.54,291.69 L167.10,291.54 L167.67,291.37 L168.23,291.19 L168.79,291.00 L169.35,290.80 L169.91,290.59 L170.47,290.37 L171.03,290.14 L171.60,289.89 L172.16,289.64 L172.72,289.37 L173.28,289.08 L173.84,288.79 L174.40,288.48 L174.96,288.16 L175.53,287.82 L176.09,287.47 L176.65,287.10 L177.21,286.71 L177.77,286.31 L178.33,285.89 L178.89,285.45 L179.46,284.99 L180.02,284.52 L180.58,284.03 L181.14,283.52 L181.70,282.99 L182.26,282.44 L182.82,281.87 L183.39,281.28 L183.95,280.67 L184.51,280.04 L185.07,279.39 L185.63,278.72 L186.19,278.03 L186.75,277.31 L187.31,276.58 L187.88,275.83 L188.44,275.06 L189.00,274.28 L189.56,273.49 L190.12,272.69 L190.68,271.87 L191.24,271.05 L191.81,270.22 L192.37,269.39 L192.93,268.56 L193.49,267.72 L194.05,266.88 L194.61,266.04 L195.17,265.20 L195.74,264.36 L196.30,263.51 L196.86,262.65 L197.42,261.79 L197.98,260.92 L198.54,260.04 L199.10,259.16 L199.67,258.26 L200.23,257.36 L200.79,256.46 L201.35,255.55 L201.91,254.64 L202.47,253.73 L203.03,252.83 L203.60,251.93 L204.16,251.03 L204.72,250.15 L205.28,249.27 L205.84,248.41 L206.40,247.56 L206.96,246.72 L207.53,245.89 L208.09,245.08 L208.65,244.28 L209.21,243.50 L209.77,242.73 L210.33,241.98 L210.89,241.24 L211.46,240.53 L212.02,239.86 L212.58,239.22 L213.14,238.63 L213.70,238.10 L214.26,237.64 L214.82,237.25 L215.38,236.94 L215.95,236.72 L216.51,236.57 L217.07,236.48 L217.63,236.45 L218.19,236.46 L218.75,236.51 L219.31,236.58 L219.88,236.67 L220.44,236.77 L221.00,236.88 L221.56,237.01 L222.12,237.14 L222.68,237.29 L223.24,237.45 L223.81,237.64 L224.37,237.84 L224.93,238.06 L225.49,238.31 L226.05,238.57 L226.61,238.86 L227.17,239.16 L227.74,239.47 L228.30,239.78 L228.86,240.11 L229.42,240.44 L229.98,240.77 L230.54,241.11 L231.10,241.44 L231.67,241.78 L232.23,242.12 L232.79,242.46 L233.35,242.80 L233.91,243.14 L234.47,243.48 L235.03,243.82 L235.60,244.16 L236.16,244.50 L236.72,244.83 L237.28,245.16 L237.84,245.49 L238.40,245.82 L238.96,246.14 L239.52,246.46 L240.09,246.78 L240.65,247.09 L241.21,247.39 L241.77,247.69 L242.33,247.99 L242.89,248.28 L243.45,248.56 L244.02,248.83 L244.58,249.10 L245.14,249.36 L245.70,249.61 L246.26,249.86 L246.82,250.10 L247.38,250.33 L247.95,250.55 L248.51,250.77 L249.07,250.97 L249.63,251.17 L250.19,251.36 L250.75,251.54 L251.31,251.72 L251.88,251.88 L252.44,252.04 L253.00,252.19 L253.56,252.33 L254.12,252.46 L254.68,252.58 L255.24,252.69 L255.81,252.79 L256.37,252.88 L256.93,252.96 L257.49,253.04 L258.05,253.10 L258.61,253.15 L259.17,253.20 L259.74,253.23 L260.30,253.25 L260.86,253.26 L261.42,253.27 L261.98,253.26 L262.54,253.24 L263.10,253.21 L263.67,253.17 L264.23,253.12 L264.79,253.07 L265.35,253.00 L265.91,252.93 L266.47,252.85 L267.03,252.76 L267.59,252.67 L268.16,252.56 L268.72,252.45 L269.28,252.34 L269.84,252.21 L270.40,252.09 L270.96,251.95 L271.52,251.81 L272.09,251.67 L272.65,251.52 L273.21,251.37 L273.77,251.21 L274.33,251.05 L274.89,250.88 L275.45,250.71 L276.02,250.54 L276.58,250.37 L277.14,250.19 L277.70,250.02 L278.26,249.84 L278.82,249.65 L279.38,249.47 L279.95,249.29 L280.51,249.10 L281.07,248.92 L281.63,248.73 L282.19,248.55 L282.75,248.36 L283.31,248.17 L283.88,247.99 L284.44,247.80 L285.00,247.62 L285.56,247.44 L286.12,247.26 L286.68,247.08 L287.24,246.90 L287.81,246.72 L288.37,246.55 L288.93,246.38 L289.49,246.21 L290.05,246.05 L290.61,245.89 L291.17,245.73 L291.74,245.58 L292.30,245.43 L292.86,245.28 L293.42,245.14 L293.98,245.00 L294.54,244.87 L295.10,244.74 L295.66,244.62 L296.23,244.50 L296.79,244.38 L297.35,244.27 L297.91,244.16 L298.47,244.05 L299.03,243.94 L299.59,243.84 L300.16,243.74 L300.72,243.65 L301.28,243.55 L301.84,243.46 L302.40,243.37 L302.96,243.28 L303.52,243.20 L304.09,243.11 L304.65,243.03 L305.21,242.95 L305.77,242.87 L306.33,242.79 L306.89,242.71 L307.45,242.63 L308.02,242.55 L308.58,242.48 L309.14,242.40 L309.70,242.32" fill="none" stroke="#000" stroke-width="1.6"/>
<path d="M29.00,230.40 L29.56,229.87 L30.12,229.35 L30.68,228.83 L31.25,228.32 L31.81,227.81 L32.37,227.32 L32.93,226.84 L33.49,226.37 L34.05,225.92 L34.61,225.49 L35.18,225.08 L35.74,224.70 L36.30,224.34 L36.86,224.00 L37.42,223.70 L37.98,223.43 L38.54,223.19 L39.11,222.99 L39.67,222.83 L40.23,222.71 L40.79,222.63 L41.35,222.60 L41.91,222.61 L42.47,222.67 L43.03,222.77 L43.60,222.91 L44.16,223.09 L44.72,223.30 L45.28,223.54 L45.84,223.80 L46.40,224.09 L46.96,224.39 L47.53,224.70 L48.09,225.03 L48.65,225.36 L49.21,225.70 L49.77,226.04 L50.33,226.37 L50.89,226.69 L51.46,227.00 L52.02,227.30 L52.58,227.58 L53.14,227.84 L53.70,228.07 L54.26,228.27 L54.82,228.43 L55.39,228.56 L55.95,228.65 L56.51,228.70 L57.07,228.69 L57.63,228.64 L58.19,228.55 L58.75,228.42 L59.32,228.25 L59.88,228.04 L60.44,227.81 L61.00,227.55 L61.56,227.26 L62.12,226.96 L62.68,226.64 L63.25,226.30 L63.81,225.96 L64.37,225.61 L64.93,225.25 L65.49,224.90 L66.05,224.54 L66.61,224.20 L67.18,223.86 L67.74,223.54 L68.30,223.24 L68.86,222.95 L69.42,222.69 L69.98,222.46 L70.54,222.25 L71.10,222.08 L71.67,221.95 L72.23,221.86 L72.79,221.81 L73.35,221.80 L73.91,221.85 L74.47,221.93 L75.03,222.06 L75.60,222.23 L76.16,222.44 L76.72,222.68 L77.28,222.95 L77.84,223.26 L78.40,223.59 L78.96,223.94 L79.53,224.32 L80.09,224.72 L80.65,225.14 L81.21,225.57 L81.77,226.01 L82.33,226.47 L82.89,226.93 L83.46,227.40 L84.02,227.88 L84.58,228.35 L85.14,228.82 L85.70,229.29 L86.26,229.76 L86.82,230.21 L87.39,230.66 L87.95,231.09 L88.51,231.50 L89.07,231.90 L89.63,232.28 L90.19,232.63 L90.75,232.96 L91.32,233.26 L91.88,233.53 L92.44,233.77 L93.00,233.97 L93.56,234.14 L94.12,234.26 L94.68,234.35 L95.25,234.39 L95.81,234.38 L96.37,234.32 L96.93,234.21 L97.49,234.05 L98.05,233.85 L98.61,233.59 L99.17,233.30 L99.74,232.96 L100.30,232.59 L100.86,232.17 L101.42,231.73 L101.98,231.25 L102.54,230.74 L103.10,230.21 L103.67,229.65 L104.23,229.07 L104.79,228.47 L105.35,227.85 L105.91,227.21 L106.47,226.56 L107.03,225.91 L107.60,225.24 L108.16,224.58 L108.72,223.94 L109.28,223.31 L109.84,222.70 L110.40,222.14 L110.96,221.61 L111.53,221.14 L112.09,220.72 L112.65,220.38 L113.21,220.10 L113.77,219.91 L114.33,219.81 L114.89,219.81 L115.46,219.91 L116.02,220.11 L116.58,220.40 L117.14,220.79 L117.70,221.26 L118.26,221.82 L118.82,222.46 L119.39,223.19 L119.95,223.99 L120.51,224.86 L121.07,225.80 L121.63,226.81 L122.19,227.89 L122.75,229.02 L123.32,230.22 L123.88,231.46 L124.44,232.74 L125.00,234.06 L125.56,235.41 L126.12,236.78 L126.68,238.16 L127.24,239.56 L127.81,240.95 L128.37,242.34 L128.93,243.73 L129.49,245.10 L130.05,246.45 L130.61,247.77 L131.17,249.07 L131.74,250.33 L132.30,251.55 L132.86,252.74 L133.42,253.90 L133.98,255.04 L134.54,256.16 L135.10,257.26 L135.67,258.36 L136.23,259.45 L136.79,260.53 L137.35,261.61 L137.91,262.68 L138.47,263.72 L139.03,264.75 L139.60,265.74 L140.16,266.71 L140.72,267.63 L141.28,268.52 L141.84,269.35 L142.40,270.14 L142.96,270.89 L143.53,271.60 L144.09,272.26 L144.65,272.89 L145.21,273.48 L145.77,274.04 L146.33,274.56 L146.89,275.06 L147.46,275.53 L148.02,275.98 L148.58,276.41 L149.14,276.81 L149.70,277.20 L150.26,277.56 L150.82,277.91 L151.39,278.23 L151.95,278.53 L152.51,278.81 L153.07,279.08 L153.63,279.32 L154.19,279.54 L154.75,279.74 L155.31,279.92 L155.88,280.08 L156.44,280.22 L157.00,280.34 L157.56,280.45 L158.12,280.53 L158.68,280.59 L159.24,280.63 L159.81,280.66 L160.37,280.66 L160.93,280.65 L161.49,280.61 L162.05,280.57 L162.61,280.50 L163.17,280.42 L163.74,280.32 L164.30,280.21 L164.86,280.08 L165.42,279.94 L165.98,279.79 L166.54,279.62 L167.10,279.44 L167.67,279.25 L168.23,279.04 L168.79,278.83 L169.35,278.60 L169.91,278.37 L170.47,278.12 L171.03,277.86 L171.60,277.60 L172.16,277.32 L172.72,277.04 L173.28,276.74 L173.84,276.44 L174.40,276.13 L174.96,275.81 L175.53,275.49 L176.09,275.16 L176.65,274.82 L177.21,274.47 L177.77,274.12 L178.33,273.75 L178.89,273.38 L179.46,272.99 L180.02,272.58 L180.58,272.16 L181.14,271.71 L181.70,271.24 L182.26,270.74 L182.82,270.21 L183.39,269.65 L183.95,269.06 L184.51,268.43 L185.07,267.77 L185.63,267.06 L186.19,266.31 L186.75,265.52 L187.31,264.69 L187.88,263.83 L188.44,262.94 L189.00,262.02 L189.56,261.07 L190.12,260.09 L190.68,259.10 L191.24,258.09 L191.81,257.06 L192.37,256.02 L192.93,254.97 L193.49,253.91 L194.05,252.85 L194.61,251.80 L195.17,250.75 L195.74,249.72 L196.30,248.70 L196.86,247.69 L197.42,246.71 L197.98,245.76 L198.54,244.84 L199.10,243.94 L199.67,243.04 L200.23,242.13 L200.79,241.18 L201.35,240.18 L201.91,239.11 L202.47,237.99 L203.03,236.84 L203.60,235.71 L204.16,234.61 L204.72,233.56 L205.28,232.54 L205.84,231.54 L206.40,230.55 L206.96,229.56 L207.53,228.57 L208.09,227.58 L208.65,226.58 L209.21,225.58 L209.77,224.59 L210.33,223.60 L210.89,222.64 L211.46,221.70 L212.02,220.82 L212.58,219.99 L213.14,219.22 L213.70,218.51 L214.26,217.86 L214.82,217.25 L215.38,216.69 L215.95,216.17 L216.51,215.68 L217.07,215.23 L217.63,214.81 L218.19,214.43 L218.75,214.08 L219.31,213.78 L219.88,213.51 L220.44,213.28 L221.00,213.09 L221.56,212.93 L222.12,212.82 L222.68,212.75 L223.24,212.72 L223.81,212.73 L224.37,212.79 L224.93,212.89 L225.49,213.03 L226.05,213.22 L226.61,213.46 L227.17,213.73 L227.74,214.04 L228.30,214.38 L228.86,214.75 L229.42,215.13 L229.98,215.54 L230.54,215.96 L231.10,216.39 L231.67,216.83 L232.23,217.27 L232.79,217.71 L233.35,218.14 L233.91,218.56 L234.47,218.97 L235.03,219.37 L235.60,219.76 L236.16,220.14 L236.72,220.52 L237.28,220.89 L237.84,221.25 L238.40,221.60 L238.96,221.95 L239.52,222.29 L240.09,222.63 L240.65,222.96 L241.21,223.29 L241.77,223.62 L242.33,223.94 L242.89,224.26 L243.45,224.57 L244.02,224.89 L244.58,225.20 L245.14,225.51 L245.70,225.82 L246.26,226.13 L246.82,226.43 L247.38,226.73 L247.95,227.02 L248.51,227.31 L249.07,227.60 L249.63,227.88 L250.19,228.16 L250.75,228.43 L251.31,228.69 L251.88,228.95 L252.44,229.20 L253.00,229.45 L253.56,229.68 L254.12,229.91 L254.68,230.14 L255.24,230.35 L255.81,230.55 L256.37,230.75 L256.93,230.93 L257.49,231.11 L258.05,231.27 L258.61,231.42 L259.17,231.56 L259.74,231.69 L260.30,231.80 L260.86,231.90 L261.42,231.98 L261.98,232.05 L262.54,232.10 L263.10,232.14 L263.67,232.16 L264.23,232.17 L264.79,232.16 L265.35,232.14 L265.91,232.11 L266.47,232.06 L267.03,232.00 L267.59,231.93 L268.16,231.85 L268.72,231.76 L269.28,231.66 L269.84,231.55 L270.40,231.44 L270.96,231.31 L271.52,231.18 L272.09,231.05 L272.65,230.90 L273.21,230.76 L273.77,230.60 L274.33,230.45 L274.89,230.29 L275.45,230.13 L276.02,229.96 L276.58,229.80 L277.14,229.63 L277.70,229.46 L278.26,229.29 L278.82,229.13 L279.38,228.96 L279.95,228.79 L280.51,228.62 L281.07,228.45 L281.63,228.28 L282.19,228.11 L282.75,227.94 L283.31,227.77 L283.88,227.60 L284.44,227.43 L285.00,227.26 L285.56,227.09 L286.12,226.92 L286.68,226.75 L287.24,226.58 L287.81,226.41 L288.37,226.24 L288.93,226.07 L289.49,225.90 L290.05,225.73 L290.61,225.56 L291.17,225.39 L291.74,225.22 L292.30,225.05 L292.86,224.88 L293.42,224.71 L293.98,224.55 L294.54,224.38 L295.10,224.21 L295.66,224.04 L296.23,223.87 L296.79,223.71 L297.35,223.54 L297.91,223.37 L298.47,223.21 L299.03,223.04 L299.59,222.87 L300.16,222.71 L300.72,222.54 L301.28,222.38 L301.84,222.21 L302.40,222.04 L302.96,221.88 L303.52,221.71 L304.09,221.55 L304.65,221.38 L305.21,221.22 L305.77,221.05 L306.33,220.89 L306.89,220.72 L307.45,220.56 L308.02,220.39 L308.58,220.23 L309.14,220.06 L309.70,219.90" fill="none" stroke="#0000ff" stroke-width="1.7" stroke-dasharray="5.27 5.77" stroke-dashoffset="0"/>
</g>
<rect x="29" y="170.4" width="280.70" height="142.30" fill="none" stroke="#a0a0a0" stroke-width="1"/>
<line x1="29" y1="313.30" x2="31.2" y2="313.30" stroke="#a0a0a0"/>
<line x1="309.7" y1="313.30" x2="307.5" y2="313.30" stroke="#a0a0a0"/>
<text x="25.10" y="317.90" text-anchor="end" font-family="'Liberation Sans', sans-serif" font-size="10" fill="#333">0</text>
<line x1="29" y1="281.50" x2="31.2" y2="281.50" stroke="#a0a0a0"/>
<line x1="309.7" y1="281.50" x2="307.5" y2="281.50" stroke="#a0a0a0"/>
<text x="25.10" y="286.10" text-anchor="end" font-family="'Liberation Sans', sans-serif" font-size="10" fill="#333">20</text>
<line x1="29" y1="249.70" x2="31.2" y2="249.70" stroke="#a0a0a0"/>
<line x1="309.7" y1="249.70" x2="307.5" y2="249.70" stroke="#a0a0a0"/>
<text x="25.10" y="254.30" text-anchor="end" font-family="'Liberation Sans', sans-serif" font-size="10" fill="#333">40</text>
<line x1="29" y1="217.90" x2="31.2" y2="217.90" stroke="#a0a0a0"/>
<line x1="309.7" y1="217.90" x2="307.5" y2="217.90" stroke="#a0a0a0"/>
<text x="25.10" y="222.50" text-anchor="end" font-family="'Liberation Sans', sans-serif" font-size="10" fill="#333">60</text>
<line x1="29" y1="186.10" x2="31.2" y2="186.10" stroke="#a0a0a0"/>
<line x1="309.7" y1="186.10" x2="307.5" y2="186.10" stroke="#a0a0a0"/>
<text x="25.10" y="190.70" text-anchor="end" font-family="'Liberation Sans', sans-serif" font-size="10" fill="#333">80</text>
<line x1="29.00" y1="312.7" x2="29.00" y2="310.5" stroke="#a0a0a0"/>
<line x1="29.00" y1="170.4" x2="29.00" y2="172.6" stroke="#a0a0a0"/>
<text x="29.00" y="327.80" text-anchor="middle" font-family="'Liberation Sans', sans-serif" font-size="10" fill="#333">1000</text>
<line x1="85.14" y1="312.7" x2="85.14" y2="310.5" stroke="#a0a0a0"/>
<line x1="85.14" y1="170.4" x2="85.14" y2="172.6" stroke="#a0a0a0"/>
<text x="85.14" y="327.80" text-anchor="middle" font-family="'Liberation Sans', sans-serif" font-size="10" fill="#333">1200</text>
<line x1="141.28" y1="312.7" x2="141.28" y2="310.5" stroke="#a0a0a0"/>
<line x1="141.28" y1="170.4" x2="141.28" y2="172.6" stroke="#a0a0a0"/>
<text x="141.28" y="327.80" text-anchor="middle" font-family="'Liberation Sans', sans-serif" font-size="10" fill="#333">1400</text>
<line x1="197.42" y1="312.7" x2="197.42" y2="310.5" stroke="#a0a0a0"/>
<line x1="197.42" y1="170.4" x2="197.42" y2="172.6" stroke="#a0a0a0"/>
<text x="197.42" y="327.80" text-anchor="middle" font-family="'Liberation Sans', sans-serif" font-size="10" fill="#333">1600</text>
<line x1="253.56" y1="312.7" x2="253.56" y2="310.5" stroke="#a0a0a0"/>
<line x1="253.56" y1="170.4" x2="253.56" y2="172.6" stroke="#a0a0a0"/>
<text x="253.56" y="327.80" text-anchor="middle" font-family="'Liberation Sans', sans-serif" font-size="10" fill="#333">1800</text>
<line x1="309.70" y1="312.7" x2="309.70" y2="310.5" stroke="#a0a0a0"/>
<line x1="309.70" y1="170.4" x2="309.70" y2="172.6" stroke="#a0a0a0"/>
<text x="309.70" y="327.80" text-anchor="middle" font-family="'Liberation Sans', sans-serif" font-size="10" fill="#333">2000</text>
<text x="169.35" y="341.50" text-anchor="middle" font-family="'Liberation Sans', sans-serif" font-size="11.2" fill="#333">Wavelength (nm)</text>
<text transform="translate(9.00,241.45) rotate(-90)" text-anchor="middle" font-family="'Liberation Sans', sans-serif" font-size="11.15" fill="#333">% Transmittance</text>
<text x="281.45" y="189.70" font-family="'Liberation Sans', sans-serif" font-size="9.6" font-weight="bold" fill="#111">(c)</text>
<rect x="214.70" y="279.30" width="89.2" height="28.1" fill="#fff" stroke="#a0a0a0" stroke-width="1"/>
<line x1="217.00" y1="286.70" x2="238.30" y2="286.70" stroke="#000" stroke-width="1.6"/>
<line x1="217.00" y1="300.20" x2="238.30" y2="300.20" stroke="#0000ff" stroke-width="1.7" stroke-dasharray="5.27 5.77"/>
<text x="240.20" y="291.60" font-family="'Liberation Sans', sans-serif" font-size="10" fill="#1a1a1a">Measurement</text>
<text x="240.20" y="304.30" font-family="'Liberation Sans', sans-serif" font-size="10" fill="#1a1a1a">Model</text>
<clipPath id="clipd"><rect x="352.4" y="170.5" width="272.70" height="142.10"/></clipPath>
<g clip-path="url(#clipd)">
<path d="M352.40,252.25 L352.95,251.82 L353.49,251.39 L354.04,250.97 L354.58,250.56 L355.13,250.16 L355.67,249.76 L356.22,249.39 L356.76,249.03 L357.31,248.69 L357.85,248.37 L358.40,248.08 L358.94,247.81 L359.49,247.57 L360.04,247.36 L360.58,247.19 L361.13,247.06 L361.67,246.96 L362.22,246.90 L362.76,246.89 L363.31,246.93 L363.85,247.00 L364.40,247.12 L364.94,247.26 L365.49,247.45 L366.03,247.65 L366.58,247.89 L367.13,248.14 L367.67,248.42 L368.22,248.71 L368.76,249.00 L369.31,249.31 L369.85,249.62 L370.40,249.93 L370.94,250.24 L371.49,250.54 L372.03,250.84 L372.58,251.12 L373.13,251.38 L373.67,251.62 L374.22,251.84 L374.76,252.04 L375.31,252.20 L375.85,252.33 L376.40,252.42 L376.94,252.47 L377.49,252.47 L378.03,252.43 L378.58,252.35 L379.12,252.22 L379.67,252.06 L380.22,251.86 L380.76,251.64 L381.31,251.38 L381.85,251.10 L382.40,250.80 L382.94,250.48 L383.49,250.14 L384.03,249.79 L384.58,249.44 L385.12,249.08 L385.67,248.72 L386.21,248.36 L386.76,248.00 L387.31,247.65 L387.85,247.31 L388.40,246.99 L388.94,246.68 L389.49,246.40 L390.03,246.14 L390.58,245.91 L391.12,245.70 L391.67,245.53 L392.21,245.40 L392.76,245.31 L393.31,245.26 L393.85,245.26 L394.40,245.31 L394.94,245.40 L395.49,245.53 L396.03,245.71 L396.58,245.92 L397.12,246.16 L397.67,246.44 L398.21,246.74 L398.76,247.08 L399.30,247.43 L399.85,247.80 L400.40,248.20 L400.94,248.60 L401.49,249.02 L402.03,249.45 L402.58,249.88 L403.12,250.32 L403.67,250.75 L404.21,251.19 L404.76,251.62 L405.30,252.04 L405.85,252.45 L406.39,252.85 L406.94,253.23 L407.49,253.59 L408.03,253.93 L408.58,254.24 L409.12,254.53 L409.67,254.79 L410.21,255.01 L410.76,255.20 L411.30,255.35 L411.85,255.46 L412.39,255.52 L412.94,255.54 L413.48,255.51 L414.03,255.42 L414.58,255.28 L415.12,255.09 L415.67,254.85 L416.21,254.57 L416.76,254.24 L417.30,253.88 L417.85,253.49 L418.39,253.07 L418.94,252.63 L419.48,252.16 L420.03,251.68 L420.57,251.19 L421.12,250.68 L421.67,250.17 L422.21,249.66 L422.76,249.15 L423.30,248.64 L423.85,248.15 L424.39,247.66 L424.94,247.20 L425.48,246.75 L426.03,246.33 L426.57,245.93 L427.12,245.56 L427.67,245.22 L428.21,244.91 L428.76,244.64 L429.30,244.40 L429.85,244.21 L430.39,244.06 L430.94,243.96 L431.48,243.91 L432.03,243.91 L432.57,243.97 L433.12,244.10 L433.66,244.30 L434.21,244.58 L434.76,244.94 L435.30,245.41 L435.85,245.97 L436.39,246.65 L436.94,247.43 L437.48,248.31 L438.03,249.27 L438.57,250.31 L439.12,251.40 L439.66,252.54 L440.21,253.72 L440.75,254.92 L441.30,256.13 L441.85,257.34 L442.39,258.54 L442.94,259.74 L443.48,260.94 L444.03,262.12 L444.57,263.30 L445.12,264.46 L445.66,265.61 L446.21,266.74 L446.75,267.86 L447.30,268.96 L447.84,270.03 L448.39,271.09 L448.94,272.13 L449.48,273.13 L450.03,274.12 L450.57,275.08 L451.12,276.01 L451.66,276.91 L452.21,277.78 L452.75,278.62 L453.30,279.43 L453.84,280.21 L454.39,280.95 L454.94,281.67 L455.48,282.35 L456.03,283.01 L456.57,283.63 L457.12,284.22 L457.66,284.77 L458.21,285.30 L458.75,285.79 L459.30,286.25 L459.84,286.68 L460.39,287.08 L460.93,287.46 L461.48,287.82 L462.03,288.15 L462.57,288.47 L463.12,288.76 L463.66,289.05 L464.21,289.31 L464.75,289.57 L465.30,289.82 L465.84,290.05 L466.39,290.28 L466.93,290.50 L467.48,290.70 L468.02,290.90 L468.57,291.09 L469.12,291.27 L469.66,291.44 L470.21,291.59 L470.75,291.74 L471.30,291.88 L471.84,292.01 L472.39,292.13 L472.93,292.24 L473.48,292.33 L474.02,292.42 L474.57,292.50 L475.12,292.57 L475.66,292.62 L476.21,292.67 L476.75,292.71 L477.30,292.73 L477.84,292.75 L478.39,292.75 L478.93,292.74 L479.48,292.73 L480.02,292.70 L480.57,292.66 L481.11,292.61 L481.66,292.55 L482.21,292.48 L482.75,292.40 L483.30,292.31 L483.84,292.20 L484.39,292.09 L484.93,291.96 L485.48,291.83 L486.02,291.68 L486.57,291.53 L487.11,291.36 L487.66,291.18 L488.20,290.99 L488.75,290.79 L489.30,290.58 L489.84,290.36 L490.39,290.13 L490.93,289.88 L491.48,289.63 L492.02,289.36 L492.57,289.08 L493.11,288.78 L493.66,288.47 L494.20,288.15 L494.75,287.81 L495.29,287.46 L495.84,287.09 L496.39,286.70 L496.93,286.30 L497.48,285.88 L498.02,285.45 L498.57,284.99 L499.11,284.52 L499.66,284.02 L500.20,283.51 L500.75,282.98 L501.29,282.43 L501.84,281.86 L502.38,281.28 L502.93,280.67 L503.48,280.04 L504.02,279.39 L504.57,278.72 L505.11,278.03 L505.66,277.32 L506.20,276.58 L506.75,275.83 L507.29,275.07 L507.84,274.29 L508.38,273.50 L508.93,272.69 L509.48,271.88 L510.02,271.06 L510.57,270.23 L511.11,269.40 L511.66,268.57 L512.20,267.73 L512.75,266.90 L513.29,266.06 L513.84,265.22 L514.38,264.37 L514.93,263.52 L515.47,262.67 L516.02,261.80 L516.57,260.94 L517.11,260.06 L517.66,259.17 L518.20,258.28 L518.75,257.38 L519.29,256.48 L519.84,255.57 L520.38,254.66 L520.93,253.76 L521.47,252.85 L522.02,251.95 L522.56,251.06 L523.11,250.18 L523.66,249.30 L524.20,248.44 L524.75,247.59 L525.29,246.75 L525.84,245.92 L526.38,245.11 L526.93,244.31 L527.47,243.53 L528.02,242.76 L528.56,242.01 L529.11,241.28 L529.65,240.57 L530.20,239.89 L530.75,239.26 L531.29,238.67 L531.84,238.14 L532.38,237.68 L532.93,237.29 L533.47,236.98 L534.02,236.76 L534.56,236.61 L535.11,236.52 L535.65,236.49 L536.20,236.50 L536.75,236.55 L537.29,236.62 L537.84,236.71 L538.38,236.81 L538.93,236.92 L539.47,237.04 L540.02,237.18 L540.56,237.33 L541.11,237.49 L541.65,237.68 L542.20,237.88 L542.74,238.10 L543.29,238.35 L543.84,238.61 L544.38,238.89 L544.93,239.19 L545.47,239.50 L546.02,239.82 L546.56,240.15 L547.11,240.48 L547.65,240.81 L548.20,241.14 L548.74,241.48 L549.29,241.82 L549.83,242.16 L550.38,242.50 L550.93,242.84 L551.47,243.18 L552.02,243.52 L552.56,243.85 L553.11,244.19 L553.65,244.53 L554.20,244.86 L554.74,245.20 L555.29,245.53 L555.83,245.85 L556.38,246.17 L556.92,246.49 L557.47,246.81 L558.02,247.12 L558.56,247.42 L559.11,247.72 L559.65,248.02 L560.20,248.31 L560.74,248.59 L561.29,248.86 L561.83,249.13 L562.38,249.39 L562.92,249.64 L563.47,249.89 L564.02,250.13 L564.56,250.36 L565.11,250.58 L565.65,250.79 L566.20,251.00 L566.74,251.20 L567.29,251.39 L567.83,251.57 L568.38,251.74 L568.92,251.91 L569.47,252.07 L570.01,252.21 L570.56,252.35 L571.11,252.48 L571.65,252.60 L572.20,252.71 L572.74,252.81 L573.29,252.91 L573.83,252.99 L574.38,253.06 L574.92,253.12 L575.47,253.18 L576.01,253.22 L576.56,253.25 L577.10,253.28 L577.65,253.29 L578.20,253.29 L578.74,253.28 L579.29,253.26 L579.83,253.23 L580.38,253.20 L580.92,253.15 L581.47,253.09 L582.01,253.03 L582.56,252.96 L583.10,252.87 L583.65,252.79 L584.20,252.69 L584.74,252.59 L585.29,252.48 L585.83,252.36 L586.38,252.24 L586.92,252.11 L587.47,251.98 L588.01,251.84 L588.56,251.69 L589.10,251.55 L589.65,251.39 L590.19,251.24 L590.74,251.07 L591.29,250.91 L591.83,250.74 L592.38,250.57 L592.92,250.40 L593.47,250.22 L594.01,250.04 L594.56,249.86 L595.10,249.68 L595.65,249.50 L596.19,249.32 L596.74,249.13 L597.28,248.95 L597.83,248.76 L598.38,248.57 L598.92,248.39 L599.47,248.20 L600.01,248.02 L600.56,247.83 L601.10,247.65 L601.65,247.47 L602.19,247.29 L602.74,247.11 L603.28,246.93 L603.83,246.75 L604.37,246.58 L604.92,246.41 L605.47,246.24 L606.01,246.08 L606.56,245.92 L607.10,245.76 L607.65,245.61 L608.19,245.46 L608.74,245.31 L609.28,245.17 L609.83,245.04 L610.37,244.90 L610.92,244.78 L611.47,244.65 L612.01,244.53 L612.56,244.41 L613.10,244.30 L613.65,244.19 L614.19,244.08 L614.74,243.98 L615.28,243.88 L615.83,243.78 L616.37,243.68 L616.92,243.59 L617.46,243.49 L618.01,243.40 L618.56,243.32 L619.10,243.23 L619.65,243.15 L620.19,243.06 L620.74,242.98 L621.28,242.90 L621.83,242.82 L622.37,242.74 L622.92,242.66 L623.46,242.59 L624.01,242.51 L624.55,242.43 L625.10,242.36" fill="none" stroke="#000" stroke-width="1.6"/>
<path d="M352.40,249.10 L352.95,248.62 L353.49,248.14 L354.04,247.67 L354.58,247.21 L355.13,246.75 L355.67,246.31 L356.22,245.89 L356.76,245.48 L357.31,245.09 L357.85,244.73 L358.40,244.40 L358.94,244.09 L359.49,243.82 L360.04,243.57 L360.58,243.37 L361.13,243.21 L361.67,243.08 L362.22,243.00 L362.76,242.97 L363.31,242.99 L363.85,243.06 L364.40,243.18 L364.94,243.35 L365.49,243.55 L366.03,243.80 L366.58,244.07 L367.13,244.38 L367.67,244.70 L368.22,245.05 L368.76,245.41 L369.31,245.78 L369.85,246.16 L370.40,246.55 L370.94,246.93 L371.49,247.30 L372.03,247.67 L372.58,248.02 L373.13,248.35 L373.67,248.66 L374.22,248.94 L374.76,249.19 L375.31,249.40 L375.85,249.58 L376.40,249.71 L376.94,249.79 L377.49,249.81 L378.03,249.79 L378.58,249.72 L379.12,249.61 L379.67,249.46 L380.22,249.27 L380.76,249.05 L381.31,248.80 L381.85,248.52 L382.40,248.23 L382.94,247.92 L383.49,247.60 L384.03,247.27 L384.58,246.93 L385.12,246.60 L385.67,246.26 L386.21,245.94 L386.76,245.62 L387.31,245.32 L387.85,245.04 L388.40,244.78 L388.94,244.54 L389.49,244.34 L390.03,244.17 L390.58,244.04 L391.12,243.95 L391.67,243.90 L392.21,243.91 L392.76,243.96 L393.31,244.07 L393.85,244.22 L394.40,244.41 L394.94,244.65 L395.49,244.92 L396.03,245.23 L396.58,245.57 L397.12,245.93 L397.67,246.33 L398.21,246.74 L398.76,247.18 L399.30,247.63 L399.85,248.10 L400.40,248.58 L400.94,249.07 L401.49,249.56 L402.03,250.05 L402.58,250.55 L403.12,251.04 L403.67,251.53 L404.21,252.00 L404.76,252.47 L405.30,252.92 L405.85,253.35 L406.39,253.76 L406.94,254.15 L407.49,254.51 L408.03,254.84 L408.58,255.14 L409.12,255.40 L409.67,255.63 L410.21,255.81 L410.76,255.95 L411.30,256.05 L411.85,256.09 L412.39,256.10 L412.94,256.06 L413.48,255.99 L414.03,255.88 L414.58,255.74 L415.12,255.57 L415.67,255.37 L416.21,255.15 L416.76,254.91 L417.30,254.65 L417.85,254.37 L418.39,254.08 L418.94,253.78 L419.48,253.44 L420.03,253.08 L420.57,252.68 L421.12,252.24 L421.67,251.76 L422.21,251.23 L422.76,250.65 L423.30,250.01 L423.85,249.33 L424.39,248.62 L424.94,247.91 L425.48,247.20 L426.03,246.51 L426.57,245.87 L427.12,245.28 L427.67,244.77 L428.21,244.35 L428.76,244.03 L429.30,243.80 L429.85,243.66 L430.39,243.61 L430.94,243.64 L431.48,243.74 L432.03,243.92 L432.57,244.18 L433.12,244.53 L433.66,244.98 L434.21,245.54 L434.76,246.20 L435.30,246.99 L435.85,247.90 L436.39,248.95 L436.94,250.12 L437.48,251.39 L438.03,252.74 L438.57,254.17 L439.12,255.64 L439.66,257.16 L440.21,258.68 L440.75,260.21 L441.30,261.73 L441.85,263.23 L442.39,264.71 L442.94,266.16 L443.48,267.58 L444.03,268.96 L444.57,270.30 L445.12,271.59 L445.66,272.82 L446.21,273.99 L446.75,275.11 L447.30,276.17 L447.84,277.18 L448.39,278.14 L448.94,279.06 L449.48,279.93 L450.03,280.76 L450.57,281.55 L451.12,282.30 L451.66,283.03 L452.21,283.72 L452.75,284.38 L453.30,285.02 L453.84,285.64 L454.39,286.23 L454.94,286.80 L455.48,287.34 L456.03,287.87 L456.57,288.37 L457.12,288.85 L457.66,289.31 L458.21,289.76 L458.75,290.18 L459.30,290.59 L459.84,290.98 L460.39,291.35 L460.93,291.71 L461.48,292.05 L462.03,292.38 L462.57,292.69 L463.12,292.99 L463.66,293.27 L464.21,293.55 L464.75,293.80 L465.30,294.05 L465.84,294.28 L466.39,294.51 L466.93,294.72 L467.48,294.92 L468.02,295.10 L468.57,295.28 L469.12,295.45 L469.66,295.60 L470.21,295.75 L470.75,295.89 L471.30,296.01 L471.84,296.13 L472.39,296.24 L472.93,296.35 L473.48,296.44 L474.02,296.53 L474.57,296.60 L475.12,296.68 L475.66,296.74 L476.21,296.80 L476.75,296.85 L477.30,296.90 L477.84,296.93 L478.39,296.95 L478.93,296.97 L479.48,296.98 L480.02,296.97 L480.57,296.95 L481.11,296.92 L481.66,296.88 L482.21,296.83 L482.75,296.76 L483.30,296.68 L483.84,296.58 L484.39,296.47 L484.93,296.34 L485.48,296.19 L486.02,296.03 L486.57,295.85 L487.11,295.65 L487.66,295.43 L488.20,295.20 L488.75,294.95 L489.30,294.68 L489.84,294.40 L490.39,294.10 L490.93,293.79 L491.48,293.47 L492.02,293.15 L492.57,292.81 L493.11,292.48 L493.66,292.13 L494.20,291.78 L494.75,291.44 L495.29,291.09 L495.84,290.74 L496.39,290.40 L496.93,290.06 L497.48,289.72 L498.02,289.38 L498.57,289.05 L499.11,288.71 L499.66,288.36 L500.20,288.00 L500.75,287.63 L501.29,287.25 L501.84,286.84 L502.38,286.42 L502.93,285.97 L503.48,285.50 L504.02,285.00 L504.57,284.47 L505.11,283.90 L505.66,283.30 L506.20,282.66 L506.75,281.99 L507.29,281.27 L507.84,280.52 L508.38,279.74 L508.93,278.93 L509.48,278.11 L510.02,277.28 L510.57,276.43 L511.11,275.59 L511.66,274.74 L512.20,273.88 L512.75,273.02 L513.29,272.16 L513.84,271.29 L514.38,270.41 L514.93,269.52 L515.47,268.62 L516.02,267.72 L516.57,266.80 L517.11,265.87 L517.66,264.93 L518.20,263.97 L518.75,263.01 L519.29,262.04 L519.84,261.05 L520.38,260.07 L520.93,259.08 L521.47,258.08 L522.02,257.09 L522.56,256.10 L523.11,255.12 L523.66,254.14 L524.20,253.17 L524.75,252.22 L525.29,251.28 L525.84,250.36 L526.38,249.47 L526.93,248.61 L527.47,247.77 L528.02,246.97 L528.56,246.21 L529.11,245.48 L529.65,244.80 L530.20,244.15 L530.75,243.54 L531.29,242.98 L531.84,242.46 L532.38,241.98 L532.93,241.55 L533.47,241.17 L534.02,240.83 L534.56,240.54 L535.11,240.31 L535.65,240.12 L536.20,239.98 L536.75,239.90 L537.29,239.86 L537.84,239.88 L538.38,239.94 L538.93,240.05 L539.47,240.19 L540.02,240.36 L540.56,240.56 L541.11,240.79 L541.65,241.04 L542.20,241.30 L542.74,241.58 L543.29,241.86 L543.84,242.15 L544.38,242.44 L544.93,242.73 L545.47,243.02 L546.02,243.30 L546.56,243.58 L547.11,243.86 L547.65,244.14 L548.20,244.42 L548.74,244.70 L549.29,244.98 L549.83,245.26 L550.38,245.55 L550.93,245.84 L551.47,246.13 L552.02,246.42 L552.56,246.72 L553.11,247.02 L553.65,247.32 L554.20,247.64 L554.74,247.95 L555.29,248.28 L555.83,248.61 L556.38,248.95 L556.92,249.29 L557.47,249.65 L558.02,250.01 L558.56,250.38 L559.11,250.76 L559.65,251.15 L560.20,251.53 L560.74,251.92 L561.29,252.30 L561.83,252.69 L562.38,253.06 L562.92,253.43 L563.47,253.79 L564.02,254.13 L564.56,254.46 L565.11,254.77 L565.65,255.07 L566.20,255.35 L566.74,255.61 L567.29,255.85 L567.83,256.08 L568.38,256.29 L568.92,256.49 L569.47,256.68 L570.01,256.84 L570.56,257.00 L571.11,257.14 L571.65,257.27 L572.20,257.38 L572.74,257.49 L573.29,257.58 L573.83,257.66 L574.38,257.73 L574.92,257.78 L575.47,257.83 L576.01,257.87 L576.56,257.90 L577.10,257.92 L577.65,257.93 L578.20,257.93 L578.74,257.92 L579.29,257.91 L579.83,257.89 L580.38,257.86 L580.92,257.82 L581.47,257.78 L582.01,257.73 L582.56,257.67 L583.10,257.61 L583.65,257.54 L584.20,257.46 L584.74,257.38 L585.29,257.30 L585.83,257.21 L586.38,257.11 L586.92,257.01 L587.47,256.91 L588.01,256.81 L588.56,256.69 L589.10,256.58 L589.65,256.46 L590.19,256.34 L590.74,256.21 L591.29,256.08 L591.83,255.94 L592.38,255.80 L592.92,255.66 L593.47,255.51 L594.01,255.36 L594.56,255.20 L595.10,255.04 L595.65,254.87 L596.19,254.70 L596.74,254.52 L597.28,254.34 L597.83,254.15 L598.38,253.96 L598.92,253.77 L599.47,253.57 L600.01,253.37 L600.56,253.17 L601.10,252.96 L601.65,252.75 L602.19,252.54 L602.74,252.33 L603.28,252.12 L603.83,251.91 L604.37,251.70 L604.92,251.49 L605.47,251.28 L606.01,251.07 L606.56,250.86 L607.10,250.66 L607.65,250.46 L608.19,250.26 L608.74,250.06 L609.28,249.87 L609.83,249.68 L610.37,249.50 L610.92,249.32 L611.47,249.15 L612.01,248.98 L612.56,248.81 L613.10,248.65 L613.65,248.49 L614.19,248.34 L614.74,248.20 L615.28,248.06 L615.83,247.93 L616.37,247.80 L616.92,247.68 L617.46,247.56 L618.01,247.45 L618.56,247.35 L619.10,247.26 L619.65,247.17 L620.19,247.09 L620.74,247.01 L621.28,246.94 L621.83,246.87 L622.37,246.80 L622.92,246.74 L623.46,246.68 L624.01,246.62 L624.55,246.56 L625.10,246.50" fill="none" stroke="#0000ff" stroke-width="1.7" stroke-dasharray="5.27 5.77" stroke-dashoffset="1.2"/>
<path d="M352.40,240.84 L352.95,240.36 L353.49,239.88 L354.04,239.41 L354.58,238.95 L355.13,238.49 L355.67,238.05 L356.22,237.63 L356.76,237.22 L357.31,236.83 L357.85,236.47 L358.40,236.14 L358.94,235.83 L359.49,235.55 L360.04,235.31 L360.58,235.11 L361.13,234.94 L361.67,234.82 L362.22,234.74 L362.76,234.71 L363.31,234.73 L363.85,234.80 L364.40,234.92 L364.94,235.09 L365.49,235.29 L366.03,235.54 L366.58,235.81 L367.13,236.11 L367.67,236.44 L368.22,236.79 L368.76,237.15 L369.31,237.52 L369.85,237.90 L370.40,238.29 L370.94,238.67 L371.49,239.04 L372.03,239.41 L372.58,239.76 L373.13,240.09 L373.67,240.40 L374.22,240.68 L374.76,240.93 L375.31,241.14 L375.85,241.32 L376.40,241.44 L376.94,241.53 L377.49,241.55 L378.03,241.53 L378.58,241.46 L379.12,241.35 L379.67,241.20 L380.22,241.01 L380.76,240.79 L381.31,240.54 L381.85,240.26 L382.40,239.97 L382.94,239.66 L383.49,239.34 L384.03,239.01 L384.58,238.67 L385.12,238.34 L385.67,238.00 L386.21,237.68 L386.76,237.36 L387.31,237.06 L387.85,236.78 L388.40,236.52 L388.94,236.28 L389.49,236.08 L390.03,235.91 L390.58,235.77 L391.12,235.68 L391.67,235.64 L392.21,235.64 L392.76,235.70 L393.31,235.81 L393.85,235.96 L394.40,236.15 L394.94,236.39 L395.49,236.66 L396.03,236.97 L396.58,237.31 L397.12,237.67 L397.67,238.07 L398.21,238.48 L398.76,238.92 L399.30,239.37 L399.85,239.84 L400.40,240.32 L400.94,240.81 L401.49,241.30 L402.03,241.79 L402.58,242.29 L403.12,242.78 L403.67,243.26 L404.21,243.74 L404.76,244.21 L405.30,244.65 L405.85,245.09 L406.39,245.50 L406.94,245.88 L407.49,246.25 L408.03,246.58 L408.58,246.88 L409.12,247.14 L409.67,247.37 L410.21,247.55 L410.76,247.69 L411.30,247.79 L411.85,247.83 L412.39,247.84 L412.94,247.80 L413.48,247.73 L414.03,247.62 L414.58,247.48 L415.12,247.30 L415.67,247.11 L416.21,246.89 L416.76,246.65 L417.30,246.39 L417.85,246.11 L418.39,245.82 L418.94,245.51 L419.48,245.18 L420.03,244.82 L420.57,244.42 L421.12,243.98 L421.67,243.50 L422.21,242.97 L422.76,242.39 L423.30,241.75 L423.85,241.07 L424.39,240.36 L424.94,239.65 L425.48,238.94 L426.03,238.25 L426.57,237.61 L427.12,237.02 L427.67,236.51 L428.21,236.09 L428.76,235.77 L429.30,235.54 L429.85,235.40 L430.39,235.35 L430.94,235.38 L431.48,235.48 L432.03,235.66 L432.57,235.92 L433.12,236.27 L433.66,236.72 L434.21,237.28 L434.76,237.94 L435.30,238.73 L435.85,239.64 L436.39,240.69 L436.94,241.86 L437.48,243.13 L438.03,244.48 L438.57,245.91 L439.12,247.38 L439.66,248.89 L440.21,250.42 L440.75,251.95 L441.30,253.47 L441.85,254.97 L442.39,256.45 L442.94,257.90 L443.48,259.32 L444.03,260.70 L444.57,262.04 L445.12,263.33 L445.66,264.56 L446.21,265.73 L446.75,266.85 L447.30,267.91 L447.84,268.92 L448.39,269.88 L448.94,270.80 L449.48,271.67 L450.03,272.50 L450.57,273.29 L451.12,274.04 L451.66,274.77 L452.21,275.46 L452.75,276.12 L453.30,276.76 L453.84,277.38 L454.39,277.97 L454.94,278.54 L455.48,279.08 L456.03,279.61 L456.57,280.11 L457.12,280.59 L457.66,281.05 L458.21,281.50 L458.75,281.92 L459.30,282.33 L459.84,282.72 L460.39,283.09 L460.93,283.45 L461.48,283.79 L462.03,284.12 L462.57,284.43 L463.12,284.73 L463.66,285.01 L464.21,285.28 L464.75,285.54 L465.30,285.79 L465.84,286.02 L466.39,286.25 L466.93,286.46 L467.48,286.65 L468.02,286.84 L468.57,287.02 L469.12,287.19 L469.66,287.34 L470.21,287.49 L470.75,287.63 L471.30,287.75 L471.84,287.87 L472.39,287.98 L472.93,288.08 L473.48,288.18 L474.02,288.27 L474.57,288.34 L475.12,288.42 L475.66,288.48 L476.21,288.54 L476.75,288.59 L477.30,288.63 L477.84,288.67 L478.39,288.69 L478.93,288.71 L479.48,288.71 L480.02,288.71 L480.57,288.69 L481.11,288.66 L481.66,288.62 L482.21,288.57 L482.75,288.50 L483.30,288.42 L483.84,288.32 L484.39,288.21 L484.93,288.08 L485.48,287.93 L486.02,287.77 L486.57,287.59 L487.11,287.39 L487.66,287.17 L488.20,286.94 L488.75,286.69 L489.30,286.42 L489.84,286.13 L490.39,285.84 L490.93,285.53 L491.48,285.21 L492.02,284.89 L492.57,284.55 L493.11,284.21 L493.66,283.87 L494.20,283.52 L494.75,283.18 L495.29,282.83 L495.84,282.48 L496.39,282.14 L496.93,281.80 L497.48,281.46 L498.02,281.12 L498.57,280.79 L499.11,280.45 L499.66,280.10 L500.20,279.74 L500.75,279.37 L501.29,278.99 L501.84,278.58 L502.38,278.16 L502.93,277.71 L503.48,277.24 L504.02,276.74 L504.57,276.21 L505.11,275.64 L505.66,275.04 L506.20,274.40 L506.75,273.73 L507.29,273.01 L507.84,272.26 L508.38,271.47 L508.93,270.67 L509.48,269.85 L510.02,269.02 L510.57,268.17 L511.11,267.33 L511.66,266.48 L512.20,265.62 L512.75,264.76 L513.29,263.90 L513.84,263.02 L514.38,262.15 L514.93,261.26 L515.47,260.36 L516.02,259.46 L516.57,258.54 L517.11,257.61 L517.66,256.67 L518.20,255.71 L518.75,254.75 L519.29,253.77 L519.84,252.79 L520.38,251.81 L520.93,250.82 L521.47,249.82 L522.02,248.83 L522.56,247.84 L523.11,246.85 L523.66,245.88 L524.20,244.91 L524.75,243.96 L525.29,243.02 L525.84,242.10 L526.38,241.21 L526.93,240.35 L527.47,239.51 L528.02,238.71 L528.56,237.95 L529.11,237.22 L529.65,236.54 L530.20,235.89 L530.75,235.28 L531.29,234.72 L531.84,234.20 L532.38,233.72 L532.93,233.29 L533.47,232.91 L534.02,232.57 L534.56,232.28 L535.11,232.04 L535.65,231.86 L536.20,231.72 L536.75,231.63 L537.29,231.60 L537.84,231.62 L538.38,231.68 L538.93,231.79 L539.47,231.93 L540.02,232.10 L540.56,232.30 L541.11,232.53 L541.65,232.78 L542.20,233.04 L542.74,233.32 L543.29,233.60 L543.84,233.89 L544.38,234.18 L544.93,234.47 L545.47,234.76 L546.02,235.04 L546.56,235.32 L547.11,235.60 L547.65,235.88 L548.20,236.16 L548.74,236.44 L549.29,236.72 L549.83,237.00 L550.38,237.29 L550.93,237.58 L551.47,237.87 L552.02,238.16 L552.56,238.46 L553.11,238.76 L553.65,239.06 L554.20,239.38 L554.74,239.69 L555.29,240.02 L555.83,240.35 L556.38,240.69 L556.92,241.03 L557.47,241.39 L558.02,241.75 L558.56,242.12 L559.11,242.50 L559.65,242.89 L560.20,243.27 L560.74,243.66 L561.29,244.04 L561.83,244.43 L562.38,244.80 L562.92,245.17 L563.47,245.53 L564.02,245.87 L564.56,246.20 L565.11,246.51 L565.65,246.81 L566.20,247.09 L566.74,247.35 L567.29,247.59 L567.83,247.82 L568.38,248.03 L568.92,248.23 L569.47,248.42 L570.01,248.58 L570.56,248.74 L571.11,248.88 L571.65,249.01 L572.20,249.12 L572.74,249.23 L573.29,249.32 L573.83,249.40 L574.38,249.47 L574.92,249.52 L575.47,249.57 L576.01,249.61 L576.56,249.64 L577.10,249.66 L577.65,249.67 L578.20,249.67 L578.74,249.66 L579.29,249.65 L579.83,249.63 L580.38,249.60 L580.92,249.56 L581.47,249.52 L582.01,249.46 L582.56,249.41 L583.10,249.34 L583.65,249.28 L584.20,249.20 L584.74,249.12 L585.29,249.04 L585.83,248.95 L586.38,248.85 L586.92,248.75 L587.47,248.65 L588.01,248.54 L588.56,248.43 L589.10,248.32 L589.65,248.20 L590.19,248.08 L590.74,247.95 L591.29,247.82 L591.83,247.68 L592.38,247.54 L592.92,247.40 L593.47,247.25 L594.01,247.10 L594.56,246.94 L595.10,246.77 L595.65,246.61 L596.19,246.44 L596.74,246.26 L597.28,246.08 L597.83,245.89 L598.38,245.70 L598.92,245.51 L599.47,245.31 L600.01,245.11 L600.56,244.90 L601.10,244.70 L601.65,244.49 L602.19,244.28 L602.74,244.07 L603.28,243.86 L603.83,243.65 L604.37,243.44 L604.92,243.23 L605.47,243.02 L606.01,242.81 L606.56,242.60 L607.10,242.40 L607.65,242.20 L608.19,242.00 L608.74,241.80 L609.28,241.61 L609.83,241.42 L610.37,241.24 L610.92,241.06 L611.47,240.89 L612.01,240.72 L612.56,240.55 L613.10,240.39 L613.65,240.23 L614.19,240.08 L614.74,239.94 L615.28,239.80 L615.83,239.67 L616.37,239.54 L616.92,239.42 L617.46,239.30 L618.01,239.19 L618.56,239.09 L619.10,239.00 L619.65,238.91 L620.19,238.83 L620.74,238.75 L621.28,238.68 L621.83,238.61 L622.37,238.54 L622.92,238.48 L623.46,238.42 L624.01,238.36 L624.55,238.30 L625.10,238.24 L625.10,254.76 L624.55,254.82 L624.01,254.88 L623.46,254.94 L622.92,255.00 L622.37,255.06 L621.83,255.13 L621.28,255.20 L620.74,255.27 L620.19,255.35 L619.65,255.43 L619.10,255.52 L618.56,255.61 L618.01,255.72 L617.46,255.82 L616.92,255.94 L616.37,256.06 L615.83,256.19 L615.28,256.32 L614.74,256.46 L614.19,256.60 L613.65,256.75 L613.10,256.91 L612.56,257.07 L612.01,257.24 L611.47,257.41 L610.92,257.58 L610.37,257.76 L609.83,257.94 L609.28,258.13 L608.74,258.32 L608.19,258.52 L607.65,258.72 L607.10,258.92 L606.56,259.12 L606.01,259.33 L605.47,259.54 L604.92,259.75 L604.37,259.96 L603.83,260.17 L603.28,260.38 L602.74,260.59 L602.19,260.80 L601.65,261.01 L601.10,261.22 L600.56,261.43 L600.01,261.63 L599.47,261.83 L598.92,262.03 L598.38,262.22 L597.83,262.41 L597.28,262.60 L596.74,262.78 L596.19,262.96 L595.65,263.13 L595.10,263.30 L594.56,263.46 L594.01,263.62 L593.47,263.77 L592.92,263.92 L592.38,264.06 L591.83,264.20 L591.29,264.34 L590.74,264.47 L590.19,264.60 L589.65,264.72 L589.10,264.84 L588.56,264.96 L588.01,265.07 L587.47,265.17 L586.92,265.27 L586.38,265.37 L585.83,265.47 L585.29,265.56 L584.74,265.64 L584.20,265.72 L583.65,265.80 L583.10,265.87 L582.56,265.93 L582.01,265.99 L581.47,266.04 L580.92,266.08 L580.38,266.12 L579.83,266.15 L579.29,266.17 L578.74,266.18 L578.20,266.19 L577.65,266.19 L577.10,266.18 L576.56,266.16 L576.01,266.13 L575.47,266.09 L574.92,266.05 L574.38,265.99 L573.83,265.92 L573.29,265.84 L572.74,265.75 L572.20,265.65 L571.65,265.53 L571.11,265.40 L570.56,265.26 L570.01,265.11 L569.47,264.94 L568.92,264.75 L568.38,264.56 L567.83,264.34 L567.29,264.11 L566.74,263.87 L566.20,263.61 L565.65,263.33 L565.11,263.03 L564.56,262.72 L564.02,262.39 L563.47,262.05 L562.92,261.69 L562.38,261.32 L561.83,260.95 L561.29,260.57 L560.74,260.18 L560.20,259.79 L559.65,259.41 L559.11,259.02 L558.56,258.64 L558.02,258.27 L557.47,257.91 L556.92,257.55 L556.38,257.21 L555.83,256.87 L555.29,256.54 L554.74,256.21 L554.20,255.90 L553.65,255.59 L553.11,255.28 L552.56,254.98 L552.02,254.68 L551.47,254.39 L550.93,254.10 L550.38,253.81 L549.83,253.53 L549.29,253.24 L548.74,252.96 L548.20,252.68 L547.65,252.40 L547.11,252.12 L546.56,251.84 L546.02,251.56 L545.47,251.28 L544.93,250.99 L544.38,250.70 L543.84,250.41 L543.29,250.12 L542.74,249.84 L542.20,249.56 L541.65,249.30 L541.11,249.05 L540.56,248.82 L540.02,248.62 L539.47,248.45 L538.93,248.31 L538.38,248.20 L537.84,248.14 L537.29,248.12 L536.75,248.16 L536.20,248.24 L535.65,248.38 L535.11,248.57 L534.56,248.80 L534.02,249.09 L533.47,249.43 L532.93,249.81 L532.38,250.25 L531.84,250.72 L531.29,251.24 L530.75,251.80 L530.20,252.41 L529.65,253.06 L529.11,253.74 L528.56,254.47 L528.02,255.23 L527.47,256.03 L526.93,256.87 L526.38,257.73 L525.84,258.62 L525.29,259.54 L524.75,260.48 L524.20,261.43 L523.66,262.40 L523.11,263.38 L522.56,264.36 L522.02,265.35 L521.47,266.34 L520.93,267.34 L520.38,268.33 L519.84,269.31 L519.29,270.30 L518.75,271.27 L518.20,272.24 L517.66,273.19 L517.11,274.13 L516.57,275.06 L516.02,275.98 L515.47,276.88 L514.93,277.78 L514.38,278.67 L513.84,279.55 L513.29,280.42 L512.75,281.28 L512.20,282.14 L511.66,283.00 L511.11,283.85 L510.57,284.70 L510.02,285.54 L509.48,286.37 L508.93,287.19 L508.38,288.00 L507.84,288.78 L507.29,289.53 L506.75,290.25 L506.20,290.93 L505.66,291.56 L505.11,292.17 L504.57,292.73 L504.02,293.26 L503.48,293.76 L502.93,294.23 L502.38,294.68 L501.84,295.10 L501.29,295.51 L500.75,295.89 L500.20,296.26 L499.66,296.62 L499.11,296.97 L498.57,297.31 L498.02,297.65 L497.48,297.98 L496.93,298.32 L496.39,298.66 L495.84,299.00 L495.29,299.35 L494.75,299.70 L494.20,300.05 L493.66,300.39 L493.11,300.74 L492.57,301.08 L492.02,301.41 L491.48,301.73 L490.93,302.05 L490.39,302.36 L489.84,302.66 L489.30,302.94 L488.75,303.21 L488.20,303.46 L487.66,303.70 L487.11,303.91 L486.57,304.11 L486.02,304.29 L485.48,304.45 L484.93,304.60 L484.39,304.73 L483.84,304.84 L483.30,304.94 L482.75,305.02 L482.21,305.09 L481.66,305.14 L481.11,305.18 L480.57,305.21 L480.02,305.23 L479.48,305.24 L478.93,305.23 L478.39,305.22 L477.84,305.19 L477.30,305.16 L476.75,305.11 L476.21,305.06 L475.66,305.00 L475.12,304.94 L474.57,304.87 L474.02,304.79 L473.48,304.70 L472.93,304.61 L472.39,304.50 L471.84,304.39 L471.30,304.27 L470.75,304.15 L470.21,304.01 L469.66,303.86 L469.12,303.71 L468.57,303.54 L468.02,303.36 L467.48,303.18 L466.93,302.98 L466.39,302.77 L465.84,302.55 L465.30,302.31 L464.75,302.06 L464.21,301.81 L463.66,301.53 L463.12,301.25 L462.57,300.95 L462.03,300.64 L461.48,300.31 L460.93,299.97 L460.39,299.61 L459.84,299.24 L459.30,298.85 L458.75,298.44 L458.21,298.02 L457.66,297.58 L457.12,297.11 L456.57,296.63 L456.03,296.13 L455.48,295.61 L454.94,295.06 L454.39,294.49 L453.84,293.90 L453.30,293.28 L452.75,292.65 L452.21,291.98 L451.66,291.29 L451.12,290.57 L450.57,289.81 L450.03,289.02 L449.48,288.19 L448.94,287.32 L448.39,286.40 L447.84,285.44 L447.30,284.43 L446.75,283.37 L446.21,282.25 L445.66,281.08 L445.12,279.85 L444.57,278.56 L444.03,277.22 L443.48,275.84 L442.94,274.42 L442.39,272.97 L441.85,271.49 L441.30,269.99 L440.75,268.47 L440.21,266.94 L439.66,265.42 L439.12,263.90 L438.57,262.43 L438.03,261.00 L437.48,259.65 L436.94,258.38 L436.39,257.21 L435.85,256.16 L435.30,255.25 L434.76,254.46 L434.21,253.80 L433.66,253.24 L433.12,252.79 L432.57,252.44 L432.03,252.18 L431.48,252.00 L430.94,251.90 L430.39,251.87 L429.85,251.92 L429.30,252.06 L428.76,252.29 L428.21,252.61 L427.67,253.03 L427.12,253.54 L426.57,254.13 L426.03,254.77 L425.48,255.46 L424.94,256.17 L424.39,256.88 L423.85,257.59 L423.30,258.27 L422.76,258.91 L422.21,259.49 L421.67,260.02 L421.12,260.50 L420.57,260.94 L420.03,261.34 L419.48,261.70 L418.94,262.04 L418.39,262.35 L417.85,262.63 L417.30,262.91 L416.76,263.17 L416.21,263.41 L415.67,263.63 L415.12,263.83 L414.58,264.00 L414.03,264.14 L413.48,264.25 L412.94,264.32 L412.39,264.36 L411.85,264.35 L411.30,264.31 L410.76,264.21 L410.21,264.07 L409.67,263.89 L409.12,263.66 L408.58,263.40 L408.03,263.10 L407.49,262.77 L406.94,262.41 L406.39,262.02 L405.85,261.61 L405.30,261.18 L404.76,260.73 L404.21,260.26 L403.67,259.79 L403.12,259.30 L402.58,258.81 L402.03,258.31 L401.49,257.82 L400.94,257.33 L400.40,256.84 L399.85,256.36 L399.30,255.89 L398.76,255.44 L398.21,255.00 L397.67,254.59 L397.12,254.19 L396.58,253.83 L396.03,253.49 L395.49,253.18 L394.94,252.91 L394.40,252.67 L393.85,252.48 L393.31,252.33 L392.76,252.22 L392.21,252.17 L391.67,252.16 L391.12,252.21 L390.58,252.30 L390.03,252.43 L389.49,252.60 L388.94,252.80 L388.40,253.04 L387.85,253.30 L387.31,253.58 L386.76,253.88 L386.21,254.20 L385.67,254.52 L385.12,254.86 L384.58,255.19 L384.03,255.53 L383.49,255.86 L382.94,256.18 L382.40,256.49 L381.85,256.78 L381.31,257.06 L380.76,257.31 L380.22,257.53 L379.67,257.72 L379.12,257.87 L378.58,257.98 L378.03,258.05 L377.49,258.08 L376.94,258.05 L376.40,257.97 L375.85,257.84 L375.31,257.66 L374.76,257.45 L374.22,257.20 L373.67,256.92 L373.13,256.61 L372.58,256.28 L372.03,255.93 L371.49,255.56 L370.94,255.19 L370.40,254.81 L369.85,254.42 L369.31,254.04 L368.76,253.67 L368.22,253.31 L367.67,252.96 L367.13,252.64 L366.58,252.33 L366.03,252.06 L365.49,251.81 L364.94,251.61 L364.40,251.44 L363.85,251.32 L363.31,251.25 L362.76,251.23 L362.22,251.26 L361.67,251.34 L361.13,251.47 L360.58,251.63 L360.04,251.83 L359.49,252.08 L358.94,252.35 L358.40,252.66 L357.85,252.99 L357.31,253.36 L356.76,253.74 L356.22,254.15 L355.67,254.57 L355.13,255.01 L354.58,255.47 L354.04,255.93 L353.49,256.40 L352.95,256.88 L352.40,257.36 Z" fill="rgba(255,0,0,0.25)" stroke="rgba(60,0,0,0.45)" stroke-width="0.8"/>
</g>
<rect x="352.4" y="170.5" width="272.70" height="142.10" fill="none" stroke="#a0a0a0" stroke-width="1"/>
<line x1="352.4" y1="313.27" x2="354.59999999999997" y2="313.27" stroke="#a0a0a0"/>
<line x1="625.1" y1="313.27" x2="622.9" y2="313.27" stroke="#a0a0a0"/>
<text x="348.50" y="317.87" text-anchor="end" font-family="'Liberation Sans', sans-serif" font-size="10" fill="#333">0</text>
<line x1="352.4" y1="281.50" x2="354.59999999999997" y2="281.50" stroke="#a0a0a0"/>
<line x1="625.1" y1="281.50" x2="622.9" y2="281.50" stroke="#a0a0a0"/>
<text x="348.50" y="286.10" text-anchor="end" font-family="'Liberation Sans', sans-serif" font-size="10" fill="#333">20</text>
<line x1="352.4" y1="249.73" x2="354.59999999999997" y2="249.73" stroke="#a0a0a0"/>
<line x1="625.1" y1="249.73" x2="622.9" y2="249.73" stroke="#a0a0a0"/>
<text x="348.50" y="254.33" text-anchor="end" font-family="'Liberation Sans', sans-serif" font-size="10" fill="#333">40</text>
<line x1="352.4" y1="217.96" x2="354.59999999999997" y2="217.96" stroke="#a0a0a0"/>
<line x1="625.1" y1="217.96" x2="622.9" y2="217.96" stroke="#a0a0a0"/>
<text x="348.50" y="222.56" text-anchor="end" font-family="'Liberation Sans', sans-serif" font-size="10" fill="#333">60</text>
<line x1="352.4" y1="186.19" x2="354.59999999999997" y2="186.19" stroke="#a0a0a0"/>
<line x1="625.1" y1="186.19" x2="622.9" y2="186.19" stroke="#a0a0a0"/>
<text x="348.50" y="190.79" text-anchor="end" font-family="'Liberation Sans', sans-serif" font-size="10" fill="#333">80</text>
<line x1="352.40" y1="312.6" x2="352.40" y2="310.40000000000003" stroke="#a0a0a0"/>
<line x1="352.40" y1="170.5" x2="352.40" y2="172.7" stroke="#a0a0a0"/>
<text x="352.40" y="327.70" text-anchor="middle" font-family="'Liberation Sans', sans-serif" font-size="10" fill="#333">1000</text>
<line x1="406.94" y1="312.6" x2="406.94" y2="310.40000000000003" stroke="#a0a0a0"/>
<line x1="406.94" y1="170.5" x2="406.94" y2="172.7" stroke="#a0a0a0"/>
<text x="406.94" y="327.70" text-anchor="middle" font-family="'Liberation Sans', sans-serif" font-size="10" fill="#333">1200</text>
<line x1="461.48" y1="312.6" x2="461.48" y2="310.40000000000003" stroke="#a0a0a0"/>
<line x1="461.48" y1="170.5" x2="461.48" y2="172.7" stroke="#a0a0a0"/>
<text x="461.48" y="327.70" text-anchor="middle" font-family="'Liberation Sans', sans-serif" font-size="10" fill="#333">1400</text>
<line x1="516.02" y1="312.6" x2="516.02" y2="310.40000000000003" stroke="#a0a0a0"/>
<line x1="516.02" y1="170.5" x2="516.02" y2="172.7" stroke="#a0a0a0"/>
<text x="516.02" y="327.70" text-anchor="middle" font-family="'Liberation Sans', sans-serif" font-size="10" fill="#333">1600</text>
<line x1="570.56" y1="312.6" x2="570.56" y2="310.40000000000003" stroke="#a0a0a0"/>
<line x1="570.56" y1="170.5" x2="570.56" y2="172.7" stroke="#a0a0a0"/>
<text x="570.56" y="327.70" text-anchor="middle" font-family="'Liberation Sans', sans-serif" font-size="10" fill="#333">1800</text>
<line x1="625.10" y1="312.6" x2="625.10" y2="310.40000000000003" stroke="#a0a0a0"/>
<line x1="625.10" y1="170.5" x2="625.10" y2="172.7" stroke="#a0a0a0"/>
<text x="625.10" y="327.70" text-anchor="middle" font-family="'Liberation Sans', sans-serif" font-size="10" fill="#333">2000</text>
<text x="488.75" y="341.40" text-anchor="middle" font-family="'Liberation Sans', sans-serif" font-size="11.2" fill="#333">Wavelength (nm)</text>
<text transform="translate(332.40,241.45) rotate(-90)" text-anchor="middle" font-family="'Liberation Sans', sans-serif" font-size="11.15" fill="#333">% Transmittance</text>
<text x="597.85" y="189.80" font-family="'Liberation Sans', sans-serif" font-size="9.6" font-weight="bold" fill="#111">(d)</text>
<rect x="530.10" y="279.20" width="89.2" height="28.1" fill="#fff" stroke="#a0a0a0" stroke-width="1"/>
<line x1="532.40" y1="286.60" x2="553.70" y2="286.60" stroke="#000" stroke-width="1.6"/>
<line x1="532.40" y1="300.10" x2="553.70" y2="300.10" stroke="#0000ff" stroke-width="1.7" stroke-dasharray="5.27 5.77"/>
<text x="555.60" y="291.50" font-family="'Liberation Sans', sans-serif" font-size="10" fill="#1a1a1a">Measurement</text>
<text x="555.60" y="304.20" font-family="'Liberation Sans', sans-serif" font-size="10" fill="#1a1a1a">Model</text>
</svg>
</body></html>
